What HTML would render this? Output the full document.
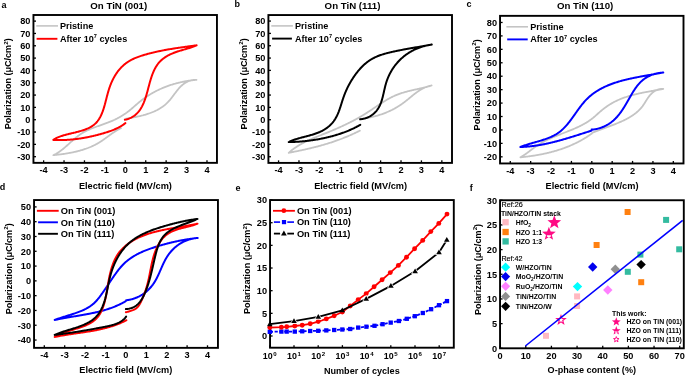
<!DOCTYPE html>
<html><head><meta charset="utf-8"><style>html,body{margin:0;padding:0;background:#fff;width:685px;height:376px;overflow:hidden;position:relative}</style></head>
<body>
<svg xmlns="http://www.w3.org/2000/svg" width="685" height="376" viewBox="0 0 685 376" style="position:absolute;left:0;top:0;will-change:transform;font-family:'Liberation Sans', sans-serif">
<rect width="685" height="376" fill="#fff"/>
<text x="1.6" y="7.9" font-size="9" font-weight="bold" text-anchor="start" fill="#000" >a</text>
<text x="234.6" y="6.9" font-size="9" font-weight="bold" text-anchor="start" fill="#000" >b</text>
<text x="466.6" y="7" font-size="9" font-weight="bold" text-anchor="start" fill="#000" >c</text>
<text x="-0.3" y="190.1" font-size="9" font-weight="bold" text-anchor="start" fill="#000" >d</text>
<text x="235.5" y="190.5" font-size="9" font-weight="bold" text-anchor="start" fill="#000" >e</text>
<text x="469.8" y="191" font-size="9" font-weight="bold" text-anchor="start" fill="#000" >f</text>
<rect x="33.45" y="15" width="183.5" height="147.85" fill="none" stroke="#000" stroke-width="1.9"/>
<line x1="43.62" y1="162.85" x2="43.62" y2="160.3" stroke="#000" stroke-width="1.3"/>
<text x="43.62" y="173.15" font-size="9.2" font-weight="bold" text-anchor="middle" fill="#000" >-4</text>
<line x1="64.04" y1="162.85" x2="64.04" y2="160.3" stroke="#000" stroke-width="1.3"/>
<text x="64.04" y="173.15" font-size="9.2" font-weight="bold" text-anchor="middle" fill="#000" >-3</text>
<line x1="84.46" y1="162.85" x2="84.46" y2="160.3" stroke="#000" stroke-width="1.3"/>
<text x="84.46" y="173.15" font-size="9.2" font-weight="bold" text-anchor="middle" fill="#000" >-2</text>
<line x1="104.88" y1="162.85" x2="104.88" y2="160.3" stroke="#000" stroke-width="1.3"/>
<text x="104.88" y="173.15" font-size="9.2" font-weight="bold" text-anchor="middle" fill="#000" >-1</text>
<line x1="125.3" y1="162.85" x2="125.3" y2="160.3" stroke="#000" stroke-width="1.3"/>
<text x="125.3" y="173.15" font-size="9.2" font-weight="bold" text-anchor="middle" fill="#000" >0</text>
<line x1="145.72" y1="162.85" x2="145.72" y2="160.3" stroke="#000" stroke-width="1.3"/>
<text x="145.72" y="173.15" font-size="9.2" font-weight="bold" text-anchor="middle" fill="#000" >1</text>
<line x1="166.14" y1="162.85" x2="166.14" y2="160.3" stroke="#000" stroke-width="1.3"/>
<text x="166.14" y="173.15" font-size="9.2" font-weight="bold" text-anchor="middle" fill="#000" >2</text>
<line x1="186.56" y1="162.85" x2="186.56" y2="160.3" stroke="#000" stroke-width="1.3"/>
<text x="186.56" y="173.15" font-size="9.2" font-weight="bold" text-anchor="middle" fill="#000" >3</text>
<line x1="206.98" y1="162.85" x2="206.98" y2="160.3" stroke="#000" stroke-width="1.3"/>
<text x="206.98" y="173.15" font-size="9.2" font-weight="bold" text-anchor="middle" fill="#000" >4</text>
<line x1="33.45" y1="21.12" x2="36" y2="21.12" stroke="#000" stroke-width="1.3"/>
<text x="30.45" y="24.37" font-size="9.2" font-weight="bold" text-anchor="end" fill="#000" >80</text>
<line x1="33.45" y1="33.45" x2="36" y2="33.45" stroke="#000" stroke-width="1.3"/>
<text x="30.45" y="36.7" font-size="9.2" font-weight="bold" text-anchor="end" fill="#000" >70</text>
<line x1="33.45" y1="45.77" x2="36" y2="45.77" stroke="#000" stroke-width="1.3"/>
<text x="30.45" y="49.02" font-size="9.2" font-weight="bold" text-anchor="end" fill="#000" >60</text>
<line x1="33.45" y1="58.09" x2="36" y2="58.09" stroke="#000" stroke-width="1.3"/>
<text x="30.45" y="61.34" font-size="9.2" font-weight="bold" text-anchor="end" fill="#000" >50</text>
<line x1="33.45" y1="70.42" x2="36" y2="70.42" stroke="#000" stroke-width="1.3"/>
<text x="30.45" y="73.67" font-size="9.2" font-weight="bold" text-anchor="end" fill="#000" >40</text>
<line x1="33.45" y1="82.75" x2="36" y2="82.75" stroke="#000" stroke-width="1.3"/>
<text x="30.45" y="86" font-size="9.2" font-weight="bold" text-anchor="end" fill="#000" >30</text>
<line x1="33.45" y1="95.07" x2="36" y2="95.07" stroke="#000" stroke-width="1.3"/>
<text x="30.45" y="98.32" font-size="9.2" font-weight="bold" text-anchor="end" fill="#000" >20</text>
<line x1="33.45" y1="107.39" x2="36" y2="107.39" stroke="#000" stroke-width="1.3"/>
<text x="30.45" y="110.64" font-size="9.2" font-weight="bold" text-anchor="end" fill="#000" >10</text>
<line x1="33.45" y1="119.72" x2="36" y2="119.72" stroke="#000" stroke-width="1.3"/>
<text x="30.45" y="122.97" font-size="9.2" font-weight="bold" text-anchor="end" fill="#000" >0</text>
<line x1="33.45" y1="132.04" x2="36" y2="132.04" stroke="#000" stroke-width="1.3"/>
<text x="30.45" y="135.29" font-size="9.2" font-weight="bold" text-anchor="end" fill="#000" >-10</text>
<line x1="33.45" y1="144.37" x2="36" y2="144.37" stroke="#000" stroke-width="1.3"/>
<text x="30.45" y="147.62" font-size="9.2" font-weight="bold" text-anchor="end" fill="#000" >-20</text>
<line x1="33.45" y1="156.69" x2="36" y2="156.69" stroke="#000" stroke-width="1.3"/>
<text x="30.45" y="159.94" font-size="9.2" font-weight="bold" text-anchor="end" fill="#000" >-30</text>
<text x="118.7" y="8.7" font-size="9.7" font-weight="bold" text-anchor="middle" fill="#000" >On TiN (001)</text>
<text x="125.4" y="188.5" font-size="9.2" font-weight="bold" text-anchor="middle" fill="#000" >Electric field (MV/cm)</text>
<text transform="translate(11.2,129.3) rotate(-90)" font-size="9.05" font-weight="bold" fill="#000">Polarization (&#956;C/cm<tspan font-size="6.24" dx="0.2" dy="-3.5">2</tspan><tspan dy="3.5">)</tspan></text>
<line x1="36.3" y1="25.9" x2="58" y2="25.9" stroke="#c4c4c4" stroke-width="1.6"/>
<line x1="36.6" y1="38.8" x2="57.4" y2="38.8" stroke="#ff0000" stroke-width="1.9"/>
<text x="59.9" y="29" font-size="9.1" font-weight="bold" text-anchor="start" fill="#000" >Pristine</text>
<text x="59.9" y="41.7" font-size="9.1" font-weight="bold" text-anchor="start" fill="#000" >After 10<tspan font-size="5.6" dy="-3.4">7</tspan><tspan dy="3.4"> cycles</tspan></text>
<path d="M125.3,118.8 L126,118.69 L126.7,118.57 L127.41,118.46 L128.11,118.34 L128.82,118.22 L129.52,118.1 L130.23,117.98 L130.93,117.86 L131.64,117.73 L132.35,117.6 L133.05,117.47 L133.76,117.34 L134.47,117.21 L135.17,117.07 L135.88,116.93 L136.58,116.78 L137.29,116.64 L137.99,116.49 L138.69,116.33 L139.39,116.18 L140.09,116.01 L140.79,115.85 L141.49,115.68 L142.18,115.5 L142.87,115.33 L143.56,115.14 L144.25,114.95 L144.94,114.76 L145.62,114.56 L146.3,114.36 L146.98,114.15 L147.65,113.93 L148.32,113.71 L148.99,113.49 L149.66,113.26 L150.32,113.02 L150.97,112.77 L151.63,112.52 L152.28,112.26 L152.93,112 L153.57,111.73 L154.2,111.45 L154.84,111.16 L155.47,110.87 L156.09,110.56 L156.71,110.26 L157.32,109.94 L157.93,109.61 L158.54,109.28 L159.14,108.94 L159.73,108.59 L160.32,108.23 L160.9,107.86 L161.47,107.48 L162.04,107.1 L162.6,106.7 L163.16,106.3 L163.71,105.88 L164.25,105.46 L164.79,105.02 L165.32,104.58 L165.84,104.12 L166.36,103.66 L166.87,103.18 L167.37,102.7 L167.86,102.2 L168.35,101.69 L168.82,101.17 L169.29,100.64 L169.76,100.11 L170.22,99.56 L170.67,99.01 L171.12,98.45 L171.56,97.88 L172,97.31 L172.44,96.73 L172.88,96.16 L173.31,95.58 L173.75,94.99 L174.18,94.41 L174.61,93.83 L175.05,93.25 L175.48,92.67 L175.92,92.09 L176.36,91.52 L176.8,90.95 L177.25,90.39 L177.7,89.84 L178.15,89.29 L178.61,88.75 L179.08,88.21 L179.56,87.69 L180.04,87.18 L180.53,86.68 L181.02,86.19 L181.53,85.71 L182.05,85.25 L182.57,84.8 L183.11,84.37 L183.65,83.95 L184.21,83.55 L184.78,83.17 L185.36,82.8 L185.95,82.45 L186.55,82.12 L187.17,81.81 L187.8,81.52 L188.44,81.25 L189.1,81 L189.77,80.77 L190.46,80.56 L191.16,80.38 L191.87,80.22 L192.6,80.09 L193.35,79.98 L194.11,79.89 L194.89,79.84 L195.69,79.8 L196.5,79.8 L196.5,79.8 L195.78,79.87 L195.07,79.94 L194.36,80.01 L193.64,80.09 L192.93,80.17 L192.22,80.26 L191.51,80.35 L190.8,80.44 L190.09,80.54 L189.39,80.64 L188.68,80.75 L187.98,80.86 L187.27,80.97 L186.57,81.09 L185.87,81.21 L185.17,81.34 L184.47,81.47 L183.78,81.61 L183.08,81.75 L182.39,81.89 L181.69,82.04 L181,82.19 L180.31,82.35 L179.62,82.51 L178.93,82.67 L178.25,82.84 L177.56,83.01 L176.88,83.19 L176.2,83.37 L175.52,83.56 L174.84,83.75 L174.16,83.94 L173.49,84.14 L172.81,84.34 L172.14,84.55 L171.47,84.76 L170.8,84.98 L170.14,85.2 L169.47,85.42 L168.81,85.65 L168.15,85.88 L167.49,86.12 L166.83,86.36 L166.18,86.6 L165.52,86.85 L164.87,87.11 L164.22,87.37 L163.58,87.63 L162.93,87.9 L162.29,88.17 L161.65,88.45 L161.01,88.73 L160.37,89.01 L159.74,89.3 L159.11,89.59 L158.48,89.89 L157.85,90.2 L157.22,90.5 L156.6,90.81 L155.98,91.13 L155.36,91.45 L154.74,91.78 L154.13,92.11 L153.52,92.44 L152.91,92.78 L152.3,93.12 L151.7,93.47 L151.1,93.82 L150.5,94.18 L149.9,94.54 L149.31,94.9 L148.72,95.27 L148.13,95.65 L147.55,96.03 L146.96,96.41 L146.38,96.8 L145.81,97.19 L145.23,97.59 L144.66,97.99 L144.09,98.4 L143.53,98.81 L142.96,99.22 L142.4,99.64 L141.85,100.07 L141.29,100.5 L140.74,100.93 L140.19,101.37 L139.65,101.81 L139.1,102.26 L138.56,102.71 L138.03,103.17 L137.49,103.62 L136.96,104.08 L136.42,104.55 L135.89,105.01 L135.36,105.47 L134.83,105.93 L134.3,106.4 L133.76,106.86 L133.23,107.32 L132.7,107.78 L132.16,108.24 L131.63,108.7 L131.09,109.15 L130.55,109.6 L130.01,110.05 L129.47,110.49 L128.92,110.93 L128.37,111.36 L127.81,111.79 L127.26,112.21 L126.7,112.63 L126.13,113.03 L125.56,113.44 L124.99,113.83 L124.41,114.22 L123.83,114.61 L123.25,114.99 L122.66,115.36 L122.07,115.73 L121.47,116.09 L120.88,116.44 L120.27,116.79 L119.67,117.14 L119.06,117.47 L118.45,117.81 L117.84,118.14 L117.22,118.46 L116.6,118.78 L115.97,119.09 L115.35,119.39 L114.72,119.7 L114.08,119.99 L113.45,120.28 L112.81,120.57 L112.17,120.85 L111.52,121.13 L110.87,121.4 L110.22,121.67 L109.57,121.93 L108.92,122.19 L108.26,122.44 L107.6,122.7 L106.94,122.94 L106.28,123.19 L105.62,123.43 L104.95,123.67 L104.29,123.91 L103.62,124.15 L102.95,124.39 L102.29,124.62 L101.62,124.86 L100.95,125.09 L100.28,125.33 L99.61,125.56 L98.95,125.8 L98.28,126.04 L97.61,126.27 L96.95,126.51 L96.28,126.75 L95.62,126.99 L94.96,127.24 L94.3,127.49 L93.64,127.74 L92.99,127.99 L92.33,128.25 L91.68,128.51 L91.03,128.77 L90.38,129.04 L89.74,129.32 L89.1,129.6 L88.46,129.88 L87.83,130.17 L87.2,130.46 L86.57,130.77 L85.95,131.08 L85.33,131.39 L84.71,131.71 L84.1,132.04 L83.49,132.38 L82.89,132.73 L82.3,133.08 L81.7,133.44 L81.12,133.81 L80.54,134.19 L79.96,134.58 L79.39,134.98 L78.83,135.39 L78.27,135.8 L77.71,136.22 L77.16,136.65 L76.61,137.09 L76.06,137.53 L75.52,137.97 L74.98,138.42 L74.45,138.88 L73.91,139.34 L73.38,139.81 L72.85,140.27 L72.32,140.74 L71.8,141.22 L71.27,141.69 L70.74,142.17 L70.22,142.65 L69.69,143.12 L69.17,143.6 L68.64,144.08 L68.12,144.56 L67.59,145.03 L67.06,145.51 L66.53,145.98 L66,146.45 L65.47,146.91 L64.93,147.38 L64.39,147.84 L63.85,148.29 L63.31,148.74 L62.76,149.18 L62.21,149.62 L61.65,150.05 L61.09,150.48 L60.53,150.9 L59.96,151.31 L59.39,151.71 L58.81,152.11 L58.22,152.49 L57.63,152.87 L57.03,153.23 L56.43,153.59 L55.82,153.94 L55.2,154.27 L54.57,154.59 L53.94,154.9 L53.3,155.2 L53.3,155.2 L54.01,155.12 L54.73,155.05 L55.44,154.97 L56.15,154.89 L56.87,154.81 L57.58,154.73 L58.29,154.64 L59,154.56 L59.71,154.47 L60.42,154.38 L61.13,154.28 L61.84,154.19 L62.55,154.09 L63.26,153.99 L63.96,153.89 L64.67,153.78 L65.38,153.67 L66.08,153.56 L66.78,153.45 L67.48,153.33 L68.19,153.21 L68.89,153.09 L69.59,152.96 L70.28,152.83 L70.98,152.7 L71.68,152.56 L72.37,152.42 L73.06,152.28 L73.75,152.13 L74.44,151.98 L75.13,151.82 L75.82,151.66 L76.5,151.5 L77.19,151.33 L77.87,151.16 L78.55,150.98 L79.23,150.8 L79.9,150.62 L80.58,150.43 L81.25,150.23 L81.92,150.03 L82.59,149.83 L83.26,149.62 L83.92,149.41 L84.58,149.19 L85.24,148.96 L85.9,148.74 L86.56,148.5 L87.21,148.26 L87.86,148.02 L88.51,147.76 L89.15,147.51 L89.8,147.24 L90.44,146.98 L91.08,146.7 L91.71,146.42 L92.35,146.14 L92.98,145.84 L93.6,145.55 L94.23,145.24 L94.85,144.93 L95.47,144.61 L96.09,144.29 L96.7,143.96 L97.31,143.62 L97.91,143.27 L98.52,142.92 L99.12,142.56 L99.72,142.2 L100.31,141.83 L100.9,141.45 L101.49,141.06 L102.07,140.67 L102.66,140.27 L103.24,139.87 L103.81,139.46 L104.39,139.05 L104.97,138.63 L105.54,138.22 L106.11,137.8 L106.69,137.38 L107.26,136.95 L107.83,136.53 L108.41,136.11 L108.98,135.69 L109.55,135.27 L110.13,134.85 L110.71,134.43 L111.28,134.02 L111.87,133.6 L112.45,133.2 L113.03,132.79 L113.62,132.4 L114.21,132 L114.81,131.62 L115.41,131.24 L116.01,130.86 L116.62,130.5 L117.23,130.14 L117.84,129.79 L118.46,129.45 L119.09,129.12 L119.72,128.8 L120.36,128.5 L121,128.2" fill="none" stroke="#c4c4c4" stroke-width="1.8" stroke-linejoin="round" stroke-linecap="round"/>
<path d="M124.8,119.8 L125.59,119.62 L126.37,119.42 L127.12,119.2 L127.86,118.97 L128.57,118.72 L129.27,118.45 L129.95,118.17 L130.61,117.87 L131.25,117.55 L131.87,117.22 L132.48,116.87 L133.07,116.51 L133.65,116.14 L134.21,115.75 L134.75,115.34 L135.28,114.92 L135.79,114.49 L136.29,114.05 L136.77,113.59 L137.24,113.12 L137.69,112.64 L138.14,112.14 L138.57,111.64 L138.98,111.12 L139.39,110.59 L139.78,110.05 L140.16,109.51 L140.53,108.95 L140.89,108.38 L141.23,107.8 L141.57,107.21 L141.9,106.62 L142.22,106.01 L142.53,105.4 L142.83,104.78 L143.12,104.15 L143.4,103.52 L143.68,102.87 L143.94,102.22 L144.2,101.57 L144.46,100.91 L144.71,100.24 L144.95,99.57 L145.18,98.89 L145.41,98.2 L145.64,97.52 L145.86,96.83 L146.07,96.13 L146.28,95.43 L146.49,94.73 L146.7,94.02 L146.9,93.31 L147.1,92.6 L147.29,91.89 L147.49,91.17 L147.68,90.46 L147.87,89.74 L148.06,89.02 L148.25,88.3 L148.44,87.58 L148.63,86.86 L148.82,86.14 L149.01,85.42 L149.2,84.71 L149.4,83.99 L149.59,83.27 L149.79,82.56 L149.99,81.85 L150.19,81.14 L150.4,80.44 L150.6,79.73 L150.82,79.03 L151.03,78.34 L151.26,77.65 L151.48,76.96 L151.71,76.28 L151.95,75.6 L152.19,74.92 L152.44,74.26 L152.7,73.59 L152.96,72.94 L153.23,72.29 L153.5,71.64 L153.79,71.01 L154.08,70.38 L154.38,69.75 L154.69,69.14 L155,68.53 L155.33,67.93 L155.66,67.34 L156.01,66.76 L156.36,66.18 L156.73,65.62 L157.1,65.06 L157.49,64.51 L157.89,63.98 L158.3,63.45 L158.72,62.93 L159.15,62.43 L159.59,61.93 L160.05,61.45 L160.52,60.97 L161,60.51 L161.49,60.06 L162,59.62 L162.51,59.18 L163.04,58.76 L163.58,58.35 L164.12,57.95 L164.68,57.56 L165.25,57.18 L165.83,56.8 L166.41,56.44 L167.01,56.09 L167.61,55.74 L168.22,55.41 L168.85,55.08 L169.47,54.76 L170.11,54.45 L170.76,54.15 L171.41,53.86 L172.06,53.58 L172.73,53.3 L173.4,53.03 L174.08,52.77 L174.76,52.51 L175.44,52.26 L176.13,52.02 L176.83,51.78 L177.53,51.55 L178.23,51.32 L178.93,51.1 L179.63,50.88 L180.34,50.66 L181.05,50.44 L181.76,50.23 L182.46,50.02 L183.17,49.81 L183.88,49.61 L184.59,49.4 L185.29,49.2 L185.99,48.99 L186.69,48.79 L187.39,48.58 L188.09,48.37 L188.78,48.17 L189.46,47.96 L190.14,47.74 L190.82,47.53 L191.49,47.31 L192.15,47.09 L192.81,46.86 L193.46,46.63 L194.11,46.4 L194.74,46.16 L195.37,45.91 L195.99,45.66 L196.6,45.4 L196.6,45.3 L195.9,45.4 L195.19,45.49 L194.49,45.59 L193.79,45.68 L193.09,45.78 L192.39,45.88 L191.69,45.97 L190.99,46.07 L190.29,46.16 L189.59,46.26 L188.89,46.35 L188.19,46.45 L187.5,46.54 L186.8,46.64 L186.1,46.73 L185.41,46.83 L184.71,46.93 L184.02,47.02 L183.32,47.12 L182.63,47.22 L181.94,47.32 L181.24,47.42 L180.55,47.52 L179.86,47.62 L179.16,47.72 L178.47,47.82 L177.78,47.92 L177.09,48.03 L176.4,48.13 L175.71,48.24 L175.02,48.34 L174.33,48.45 L173.63,48.56 L172.94,48.67 L172.25,48.78 L171.56,48.9 L170.87,49.01 L170.18,49.13 L169.49,49.24 L168.8,49.36 L168.11,49.48 L167.42,49.6 L166.73,49.72 L166.04,49.85 L165.35,49.98 L164.66,50.1 L163.97,50.23 L163.28,50.37 L162.59,50.5 L161.9,50.64 L161.21,50.77 L160.52,50.91 L159.83,51.06 L159.14,51.2 L158.45,51.35 L157.76,51.49 L157.07,51.64 L156.37,51.8 L155.68,51.95 L154.99,52.11 L154.3,52.27 L153.6,52.44 L152.91,52.6 L152.21,52.77 L151.52,52.94 L150.83,53.11 L150.13,53.29 L149.43,53.47 L148.74,53.65 L148.04,53.84 L147.35,54.03 L146.65,54.22 L145.95,54.41 L145.25,54.61 L144.55,54.81 L143.86,55.02 L143.16,55.23 L142.47,55.44 L141.77,55.66 L141.08,55.88 L140.39,56.11 L139.71,56.34 L139.02,56.58 L138.34,56.83 L137.67,57.08 L137,57.33 L136.33,57.6 L135.66,57.87 L135,58.15 L134.35,58.43 L133.7,58.72 L133.06,59.02 L132.42,59.33 L131.79,59.64 L131.17,59.97 L130.56,60.3 L129.95,60.64 L129.35,60.99 L128.75,61.35 L128.17,61.72 L127.6,62.09 L127.03,62.48 L126.47,62.88 L125.92,63.29 L125.38,63.7 L124.85,64.12 L124.32,64.56 L123.8,65 L123.3,65.45 L122.79,65.91 L122.3,66.37 L121.82,66.85 L121.34,67.33 L120.87,67.82 L120.41,68.32 L119.96,68.82 L119.51,69.34 L119.07,69.86 L118.64,70.39 L118.22,70.92 L117.81,71.47 L117.4,72.01 L117,72.57 L116.61,73.13 L116.22,73.7 L115.84,74.28 L115.47,74.86 L115.11,75.45 L114.75,76.05 L114.4,76.65 L114.06,77.25 L113.72,77.87 L113.39,78.49 L113.07,79.11 L112.76,79.74 L112.45,80.37 L112.15,81.01 L111.85,81.66 L111.56,82.31 L111.28,82.96 L111.01,83.62 L110.74,84.28 L110.48,84.95 L110.22,85.62 L109.97,86.3 L109.73,86.98 L109.49,87.66 L109.26,88.35 L109.03,89.04 L108.81,89.74 L108.6,90.44 L108.39,91.14 L108.18,91.84 L107.98,92.55 L107.78,93.25 L107.59,93.96 L107.4,94.67 L107.21,95.38 L107.02,96.09 L106.84,96.81 L106.65,97.52 L106.47,98.23 L106.29,98.94 L106.11,99.65 L105.93,100.36 L105.74,101.07 L105.56,101.78 L105.38,102.48 L105.19,103.18 L105,103.88 L104.82,104.58 L104.62,105.28 L104.43,105.97 L104.23,106.65 L104.02,107.34 L103.82,108.01 L103.61,108.69 L103.39,109.36 L103.17,110.02 L102.94,110.68 L102.71,111.33 L102.47,111.98 L102.22,112.62 L101.96,113.25 L101.7,113.88 L101.43,114.5 L101.15,115.11 L100.87,115.71 L100.57,116.31 L100.27,116.9 L99.95,117.48 L99.63,118.04 L99.29,118.61 L98.94,119.16 L98.58,119.7 L98.21,120.23 L97.83,120.75 L97.44,121.26 L97.03,121.76 L96.61,122.24 L96.17,122.72 L95.72,123.18 L95.26,123.63 L94.78,124.07 L94.29,124.5 L93.78,124.91 L93.26,125.31 L92.72,125.7 L92.17,126.07 L91.6,126.44 L91.02,126.79 L90.43,127.13 L89.82,127.45 L89.2,127.77 L88.57,128.08 L87.94,128.38 L87.29,128.66 L86.63,128.94 L85.96,129.21 L85.28,129.47 L84.6,129.73 L83.91,129.97 L83.21,130.21 L82.51,130.44 L81.8,130.66 L81.09,130.88 L80.37,131.09 L79.65,131.3 L78.92,131.5 L78.19,131.7 L77.46,131.89 L76.73,132.08 L76,132.26 L75.26,132.45 L74.53,132.62 L73.8,132.8 L73.06,132.98 L72.33,133.15 L71.6,133.32 L70.87,133.49 L70.15,133.67 L69.42,133.84 L68.7,134.02 L67.98,134.19 L67.27,134.37 L66.56,134.55 L65.85,134.74 L65.15,134.93 L64.46,135.12 L63.77,135.32 L63.08,135.52 L62.41,135.73 L61.74,135.95 L61.07,136.17 L60.42,136.4 L59.77,136.64 L59.13,136.88 L58.5,137.14 L57.88,137.4 L57.27,137.67 L56.67,137.96 L56.08,138.25 L55.5,138.56 L54.93,138.87 L54.38,139.2 L53.83,139.54 L53.3,139.9 L53.3,139.9 L53.99,139.94 L54.68,139.97 L55.37,140 L56.07,140.02 L56.76,140.04 L57.45,140.06 L58.15,140.07 L58.84,140.08 L59.54,140.08 L60.24,140.08 L60.94,140.07 L61.63,140.06 L62.33,140.05 L63.03,140.03 L63.73,140.01 L64.43,139.99 L65.13,139.96 L65.84,139.93 L66.54,139.89 L67.24,139.85 L67.94,139.81 L68.65,139.76 L69.35,139.71 L70.05,139.66 L70.76,139.6 L71.46,139.54 L72.17,139.47 L72.87,139.4 L73.57,139.33 L74.28,139.25 L74.98,139.18 L75.69,139.09 L76.39,139.01 L77.1,138.92 L77.8,138.82 L78.51,138.73 L79.21,138.63 L79.91,138.52 L80.62,138.42 L81.32,138.31 L82.03,138.19 L82.73,138.08 L83.43,137.96 L84.13,137.84 L84.84,137.71 L85.54,137.58 L86.24,137.45 L86.94,137.32 L87.64,137.18 L88.34,137.04 L89.04,136.89 L89.74,136.75 L90.44,136.6 L91.14,136.45 L91.83,136.29 L92.53,136.13 L93.23,135.97 L93.92,135.81 L94.62,135.64 L95.31,135.47 L96,135.3 L96.69,135.13 L97.38,134.95 L98.07,134.77 L98.76,134.59 L99.45,134.4 L100.14,134.21 L100.82,134.02 L101.51,133.83 L102.19,133.64 L102.88,133.44 L103.56,133.24 L104.24,133.04 L104.92,132.83 L105.59,132.63 L106.27,132.41 L106.94,132.2 L107.62,131.98 L108.29,131.76 L108.95,131.54 L109.62,131.31 L110.28,131.07 L110.94,130.83 L111.59,130.59 L112.25,130.34 L112.89,130.09 L113.54,129.83 L114.18,129.56 L114.82,129.29 L115.45,129.01 L116.08,128.73 L116.7,128.44 L117.32,128.14 L117.94,127.83 L118.55,127.52 L119.15,127.2 L119.75,126.87 L120.34,126.53 L120.93,126.19 L121.51,125.84 L122.09,125.47 L122.66,125.1 L123.22,124.72 L123.78,124.33 L124.33,123.93 L124.87,123.52 L125.4,123.1" fill="none" stroke="#ff0000" stroke-width="2.0" stroke-linejoin="round" stroke-linecap="round"/>
<rect x="268.4" y="15.05" width="183.6" height="147.85" fill="none" stroke="#000" stroke-width="1.9"/>
<line x1="278.56" y1="162.9" x2="278.56" y2="160.35" stroke="#000" stroke-width="1.3"/>
<text x="278.56" y="173.2" font-size="9.2" font-weight="bold" text-anchor="middle" fill="#000" >-4</text>
<line x1="298.97" y1="162.9" x2="298.97" y2="160.35" stroke="#000" stroke-width="1.3"/>
<text x="298.97" y="173.2" font-size="9.2" font-weight="bold" text-anchor="middle" fill="#000" >-3</text>
<line x1="319.38" y1="162.9" x2="319.38" y2="160.35" stroke="#000" stroke-width="1.3"/>
<text x="319.38" y="173.2" font-size="9.2" font-weight="bold" text-anchor="middle" fill="#000" >-2</text>
<line x1="339.79" y1="162.9" x2="339.79" y2="160.35" stroke="#000" stroke-width="1.3"/>
<text x="339.79" y="173.2" font-size="9.2" font-weight="bold" text-anchor="middle" fill="#000" >-1</text>
<line x1="360.2" y1="162.9" x2="360.2" y2="160.35" stroke="#000" stroke-width="1.3"/>
<text x="360.2" y="173.2" font-size="9.2" font-weight="bold" text-anchor="middle" fill="#000" >0</text>
<line x1="380.61" y1="162.9" x2="380.61" y2="160.35" stroke="#000" stroke-width="1.3"/>
<text x="380.61" y="173.2" font-size="9.2" font-weight="bold" text-anchor="middle" fill="#000" >1</text>
<line x1="401.02" y1="162.9" x2="401.02" y2="160.35" stroke="#000" stroke-width="1.3"/>
<text x="401.02" y="173.2" font-size="9.2" font-weight="bold" text-anchor="middle" fill="#000" >2</text>
<line x1="421.43" y1="162.9" x2="421.43" y2="160.35" stroke="#000" stroke-width="1.3"/>
<text x="421.43" y="173.2" font-size="9.2" font-weight="bold" text-anchor="middle" fill="#000" >3</text>
<line x1="441.84" y1="162.9" x2="441.84" y2="160.35" stroke="#000" stroke-width="1.3"/>
<text x="441.84" y="173.2" font-size="9.2" font-weight="bold" text-anchor="middle" fill="#000" >4</text>
<line x1="268.4" y1="21.06" x2="270.95" y2="21.06" stroke="#000" stroke-width="1.3"/>
<text x="265.4" y="24.31" font-size="9.2" font-weight="bold" text-anchor="end" fill="#000" >80</text>
<line x1="268.4" y1="33.4" x2="270.95" y2="33.4" stroke="#000" stroke-width="1.3"/>
<text x="265.4" y="36.65" font-size="9.2" font-weight="bold" text-anchor="end" fill="#000" >70</text>
<line x1="268.4" y1="45.73" x2="270.95" y2="45.73" stroke="#000" stroke-width="1.3"/>
<text x="265.4" y="48.98" font-size="9.2" font-weight="bold" text-anchor="end" fill="#000" >60</text>
<line x1="268.4" y1="58.06" x2="270.95" y2="58.06" stroke="#000" stroke-width="1.3"/>
<text x="265.4" y="61.31" font-size="9.2" font-weight="bold" text-anchor="end" fill="#000" >50</text>
<line x1="268.4" y1="70.39" x2="270.95" y2="70.39" stroke="#000" stroke-width="1.3"/>
<text x="265.4" y="73.64" font-size="9.2" font-weight="bold" text-anchor="end" fill="#000" >40</text>
<line x1="268.4" y1="82.72" x2="270.95" y2="82.72" stroke="#000" stroke-width="1.3"/>
<text x="265.4" y="85.97" font-size="9.2" font-weight="bold" text-anchor="end" fill="#000" >30</text>
<line x1="268.4" y1="95.06" x2="270.95" y2="95.06" stroke="#000" stroke-width="1.3"/>
<text x="265.4" y="98.31" font-size="9.2" font-weight="bold" text-anchor="end" fill="#000" >20</text>
<line x1="268.4" y1="107.39" x2="270.95" y2="107.39" stroke="#000" stroke-width="1.3"/>
<text x="265.4" y="110.64" font-size="9.2" font-weight="bold" text-anchor="end" fill="#000" >10</text>
<line x1="268.4" y1="119.72" x2="270.95" y2="119.72" stroke="#000" stroke-width="1.3"/>
<text x="265.4" y="122.97" font-size="9.2" font-weight="bold" text-anchor="end" fill="#000" >0</text>
<line x1="268.4" y1="132.05" x2="270.95" y2="132.05" stroke="#000" stroke-width="1.3"/>
<text x="265.4" y="135.3" font-size="9.2" font-weight="bold" text-anchor="end" fill="#000" >-10</text>
<line x1="268.4" y1="144.38" x2="270.95" y2="144.38" stroke="#000" stroke-width="1.3"/>
<text x="265.4" y="147.63" font-size="9.2" font-weight="bold" text-anchor="end" fill="#000" >-20</text>
<line x1="268.4" y1="156.72" x2="270.95" y2="156.72" stroke="#000" stroke-width="1.3"/>
<text x="265.4" y="159.97" font-size="9.2" font-weight="bold" text-anchor="end" fill="#000" >-30</text>
<text x="352.5" y="8.7" font-size="9.7" font-weight="bold" text-anchor="middle" fill="#000" >On TiN (111)</text>
<text x="360.6" y="188.7" font-size="9.2" font-weight="bold" text-anchor="middle" fill="#000" >Electric field (MV/cm)</text>
<text transform="translate(246.6,129.4) rotate(-90)" font-size="9.05" font-weight="bold" fill="#000">Polarization (&#956;C/cm<tspan font-size="6.24" dx="0.2" dy="-3.5">2</tspan><tspan dy="3.5">)</tspan></text>
<line x1="271.3" y1="25.9" x2="292.9" y2="25.9" stroke="#c4c4c4" stroke-width="1.6"/>
<line x1="272.1" y1="38.6" x2="291.9" y2="38.6" stroke="#000000" stroke-width="1.9"/>
<text x="295" y="28.95" font-size="9.1" font-weight="bold" text-anchor="start" fill="#000" >Pristine</text>
<text x="295" y="41.65" font-size="9.1" font-weight="bold" text-anchor="start" fill="#000" >After 10<tspan font-size="5.6" dy="-3.4">7</tspan><tspan dy="3.4"> cycles</tspan></text>
<path d="M360,119 L360.72,118.92 L361.43,118.83 L362.15,118.74 L362.86,118.65 L363.57,118.55 L364.28,118.45 L364.99,118.34 L365.7,118.23 L366.41,118.11 L367.11,117.99 L367.82,117.86 L368.52,117.73 L369.22,117.59 L369.92,117.45 L370.61,117.3 L371.31,117.15 L372,116.99 L372.69,116.83 L373.38,116.67 L374.07,116.5 L374.76,116.32 L375.44,116.14 L376.12,115.95 L376.81,115.76 L377.48,115.57 L378.16,115.36 L378.83,115.16 L379.51,114.95 L380.18,114.73 L380.84,114.51 L381.51,114.29 L382.17,114.05 L382.83,113.82 L383.49,113.58 L384.15,113.33 L384.8,113.08 L385.46,112.82 L386.11,112.56 L386.75,112.29 L387.4,112.02 L388.04,111.74 L388.68,111.46 L389.32,111.17 L389.95,110.88 L390.58,110.58 L391.21,110.27 L391.84,109.97 L392.46,109.65 L393.08,109.33 L393.7,109.01 L394.32,108.67 L394.93,108.34 L395.54,108 L396.14,107.65 L396.75,107.3 L397.35,106.94 L397.95,106.58 L398.54,106.21 L399.13,105.83 L399.72,105.45 L400.31,105.07 L400.89,104.68 L401.47,104.28 L402.04,103.88 L402.61,103.47 L403.18,103.06 L403.75,102.64 L404.31,102.22 L404.87,101.79 L405.43,101.36 L405.98,100.92 L406.53,100.48 L407.08,100.03 L407.63,99.59 L408.18,99.14 L408.72,98.69 L409.27,98.24 L409.82,97.79 L410.36,97.34 L410.9,96.88 L411.45,96.43 L412,95.99 L412.54,95.54 L413.09,95.1 L413.64,94.66 L414.19,94.22 L414.75,93.79 L415.31,93.36 L415.87,92.94 L416.43,92.52 L416.99,92.11 L417.56,91.7 L418.14,91.31 L418.71,90.92 L419.3,90.53 L419.88,90.16 L420.48,89.8 L421.07,89.44 L421.68,89.1 L422.29,88.76 L422.9,88.44 L423.52,88.13 L424.15,87.83 L424.79,87.55 L425.43,87.28 L426.08,87.02 L426.74,86.77 L427.41,86.54 L428.08,86.33 L428.77,86.13 L429.46,85.95 L430.16,85.78 L430.88,85.63 L431.6,85.5 L431.6,85.5 L430.94,85.71 L430.28,85.91 L429.61,86.1 L428.94,86.29 L428.27,86.48 L427.6,86.67 L426.92,86.85 L426.24,87.02 L425.56,87.2 L424.88,87.37 L424.19,87.54 L423.5,87.7 L422.82,87.86 L422.13,88.03 L421.43,88.19 L420.74,88.34 L420.05,88.5 L419.35,88.66 L418.66,88.81 L417.96,88.97 L417.26,89.12 L416.57,89.28 L415.87,89.43 L415.17,89.59 L414.47,89.74 L413.78,89.9 L413.08,90.06 L412.38,90.22 L411.69,90.38 L410.99,90.54 L410.3,90.71 L409.6,90.88 L408.91,91.05 L408.22,91.22 L407.53,91.4 L406.84,91.58 L406.15,91.76 L405.47,91.95 L404.78,92.14 L404.1,92.33 L403.42,92.53 L402.75,92.74 L402.07,92.95 L401.4,93.17 L400.73,93.39 L400.06,93.61 L399.4,93.85 L398.74,94.08 L398.08,94.33 L397.43,94.58 L396.78,94.84 L396.13,95.11 L395.49,95.38 L394.85,95.66 L394.21,95.95 L393.58,96.24 L392.95,96.54 L392.32,96.84 L391.7,97.16 L391.07,97.47 L390.46,97.79 L389.84,98.12 L389.23,98.45 L388.61,98.79 L388,99.13 L387.4,99.48 L386.79,99.83 L386.19,100.18 L385.59,100.54 L384.99,100.9 L384.39,101.26 L383.8,101.63 L383.2,102 L382.61,102.38 L382.02,102.75 L381.43,103.13 L380.84,103.51 L380.25,103.9 L379.66,104.28 L379.07,104.67 L378.49,105.06 L377.9,105.45 L377.32,105.84 L376.73,106.23 L376.15,106.63 L375.57,107.02 L374.98,107.42 L374.4,107.81 L373.81,108.2 L373.23,108.6 L372.65,108.99 L372.06,109.39 L371.48,109.78 L370.89,110.17 L370.31,110.56 L369.72,110.95 L369.13,111.34 L368.54,111.72 L367.95,112.11 L367.36,112.49 L366.77,112.87 L366.17,113.25 L365.58,113.62 L364.98,113.99 L364.38,114.36 L363.78,114.73 L363.18,115.1 L362.58,115.46 L361.98,115.82 L361.37,116.17 L360.77,116.53 L360.16,116.88 L359.55,117.23 L358.94,117.58 L358.33,117.93 L357.72,118.27 L357.1,118.61 L356.49,118.95 L355.87,119.29 L355.26,119.62 L354.64,119.95 L354.02,120.28 L353.4,120.61 L352.78,120.94 L352.15,121.26 L351.53,121.59 L350.91,121.91 L350.28,122.22 L349.65,122.54 L349.03,122.86 L348.4,123.17 L347.77,123.48 L347.14,123.79 L346.51,124.1 L345.87,124.4 L345.24,124.7 L344.61,125.01 L343.97,125.31 L343.33,125.61 L342.7,125.9 L342.06,126.2 L341.42,126.49 L340.78,126.78 L340.14,127.07 L339.5,127.36 L338.86,127.65 L338.22,127.94 L337.57,128.22 L336.93,128.51 L336.29,128.79 L335.64,129.07 L335,129.35 L334.35,129.63 L333.7,129.9 L333.06,130.18 L332.41,130.46 L331.76,130.73 L331.11,131 L330.46,131.27 L329.81,131.54 L329.16,131.81 L328.51,132.08 L327.86,132.34 L327.2,132.61 L326.55,132.88 L325.9,133.14 L325.24,133.4 L324.59,133.66 L323.94,133.93 L323.28,134.19 L322.63,134.45 L321.97,134.71 L321.32,134.97 L320.66,135.23 L320.01,135.49 L319.36,135.75 L318.7,136.01 L318.05,136.27 L317.4,136.54 L316.74,136.8 L316.09,137.06 L315.44,137.33 L314.79,137.6 L314.14,137.87 L313.5,138.14 L312.85,138.42 L312.2,138.69 L311.56,138.97 L310.91,139.25 L310.27,139.53 L309.63,139.82 L308.99,140.11 L308.35,140.4 L307.72,140.69 L307.08,140.99 L306.45,141.3 L305.82,141.6 L305.19,141.91 L304.56,142.23 L303.94,142.54 L303.32,142.87 L302.7,143.19 L302.08,143.52 L301.46,143.86 L300.85,144.2 L300.24,144.55 L299.63,144.9 L299.03,145.26 L298.43,145.62 L297.83,145.99 L297.23,146.36 L296.64,146.74 L296.05,147.13 L295.46,147.52 L294.88,147.92 L294.3,148.33 L293.72,148.74 L293.15,149.16 L292.58,149.59 L292.01,150.03 L291.45,150.47 L290.89,150.92 L290.34,151.38 L289.79,151.84 L289.24,152.32 L288.7,152.8 L288.7,152.8 L289.4,152.67 L290.1,152.54 L290.8,152.4 L291.5,152.27 L292.2,152.14 L292.9,152 L293.6,151.86 L294.3,151.73 L295,151.59 L295.7,151.45 L296.4,151.31 L297.1,151.17 L297.8,151.02 L298.5,150.88 L299.2,150.73 L299.89,150.59 L300.59,150.44 L301.29,150.29 L301.99,150.14 L302.69,149.99 L303.38,149.84 L304.08,149.69 L304.78,149.53 L305.47,149.38 L306.17,149.22 L306.86,149.06 L307.56,148.9 L308.25,148.74 L308.95,148.58 L309.64,148.41 L310.34,148.25 L311.03,148.08 L311.72,147.91 L312.41,147.74 L313.11,147.57 L313.8,147.4 L314.49,147.23 L315.18,147.05 L315.87,146.87 L316.56,146.69 L317.25,146.51 L317.94,146.33 L318.63,146.14 L319.31,145.96 L320,145.77 L320.69,145.58 L321.37,145.39 L322.06,145.2 L322.75,145 L323.43,144.81 L324.11,144.61 L324.8,144.41 L325.48,144.21 L326.16,144 L326.84,143.8 L327.52,143.59 L328.21,143.38 L328.88,143.17 L329.56,142.95 L330.24,142.74 L330.92,142.52 L331.6,142.3 L332.27,142.08 L332.95,141.85 L333.62,141.63 L334.3,141.4 L334.97,141.17 L335.64,140.93 L336.31,140.7 L336.99,140.46 L337.66,140.22 L338.32,139.98 L338.99,139.74 L339.66,139.49 L340.33,139.24 L340.99,138.99 L341.66,138.74 L342.32,138.48 L342.99,138.22 L343.65,137.96 L344.31,137.7 L344.97,137.44 L345.63,137.17 L346.29,136.9 L346.95,136.62 L347.61,136.35 L348.26,136.07 L348.92,135.79 L349.57,135.51 L350.23,135.22 L350.88,134.93 L351.53,134.64 L352.18,134.35 L352.83,134.05 L353.48,133.75 L354.12,133.45 L354.77,133.14 L355.41,132.83 L356.06,132.52 L356.7,132.21 L357.34,131.89 L357.98,131.57 L358.62,131.25 L359.26,130.93 L359.9,130.6" fill="none" stroke="#c4c4c4" stroke-width="1.8" stroke-linejoin="round" stroke-linecap="round"/>
<path d="M360.2,119.3 L360.98,119.21 L361.74,119.1 L362.49,118.97 L363.24,118.82 L363.96,118.65 L364.68,118.46 L365.39,118.25 L366.08,118.02 L366.76,117.77 L367.43,117.5 L368.08,117.22 L368.72,116.92 L369.35,116.6 L369.96,116.27 L370.57,115.92 L371.15,115.55 L371.73,115.16 L372.29,114.77 L372.83,114.35 L373.37,113.92 L373.88,113.48 L374.39,113.02 L374.88,112.55 L375.35,112.07 L375.81,111.57 L376.26,111.06 L376.69,110.54 L377.1,110.01 L377.5,109.46 L377.88,108.91 L378.25,108.34 L378.6,107.76 L378.94,107.17 L379.26,106.58 L379.57,105.97 L379.87,105.35 L380.15,104.73 L380.42,104.09 L380.68,103.45 L380.93,102.81 L381.16,102.15 L381.39,101.49 L381.61,100.82 L381.82,100.15 L382.02,99.47 L382.22,98.78 L382.41,98.1 L382.59,97.4 L382.77,96.71 L382.94,96 L383.11,95.3 L383.28,94.6 L383.45,93.89 L383.61,93.18 L383.77,92.46 L383.93,91.75 L384.09,91.04 L384.25,90.32 L384.41,89.61 L384.58,88.9 L384.74,88.19 L384.91,87.47 L385.09,86.76 L385.27,86.06 L385.45,85.35 L385.64,84.65 L385.83,83.95 L386.04,83.26 L386.25,82.57 L386.47,81.88 L386.69,81.2 L386.93,80.52 L387.17,79.85 L387.42,79.18 L387.68,78.51 L387.95,77.85 L388.22,77.2 L388.5,76.55 L388.79,75.9 L389.09,75.26 L389.39,74.63 L389.71,74 L390.03,73.37 L390.35,72.75 L390.69,72.14 L391.03,71.53 L391.38,70.92 L391.74,70.32 L392.1,69.73 L392.47,69.14 L392.85,68.56 L393.24,67.98 L393.63,67.41 L394.03,66.84 L394.44,66.28 L394.85,65.72 L395.27,65.17 L395.7,64.63 L396.13,64.09 L396.57,63.56 L397.02,63.04 L397.47,62.52 L397.93,62 L398.4,61.49 L398.87,60.99 L399.35,60.5 L399.83,60.01 L400.33,59.53 L400.82,59.05 L401.33,58.58 L401.84,58.12 L402.36,57.66 L402.88,57.21 L403.41,56.77 L403.94,56.33 L404.48,55.9 L405.03,55.48 L405.58,55.06 L406.14,54.65 L406.7,54.25 L407.27,53.85 L407.84,53.46 L408.42,53.08 L409.01,52.71 L409.6,52.34 L410.19,51.98 L410.8,51.63 L411.4,51.28 L412.01,50.94 L412.63,50.61 L413.25,50.29 L413.88,49.97 L414.51,49.67 L415.15,49.37 L415.79,49.07 L416.44,48.79 L417.09,48.51 L417.75,48.24 L418.41,47.98 L419.07,47.73 L419.75,47.49 L420.42,47.25 L421.1,47.02 L421.78,46.8 L422.47,46.59 L423.17,46.38 L423.86,46.19 L424.56,46 L425.27,45.82 L425.98,45.65 L426.69,45.49 L427.41,45.34 L428.13,45.19 L428.86,45.06 L429.59,44.93 L430.32,44.81 L431.06,44.7 L431.8,44.6 L431.8,44.6 L431.11,44.72 L430.42,44.85 L429.72,44.97 L429.03,45.09 L428.34,45.21 L427.65,45.33 L426.96,45.45 L426.27,45.57 L425.58,45.69 L424.88,45.81 L424.19,45.93 L423.5,46.05 L422.81,46.17 L422.12,46.29 L421.43,46.41 L420.73,46.52 L420.04,46.64 L419.35,46.76 L418.66,46.88 L417.97,47 L417.27,47.12 L416.58,47.24 L415.89,47.36 L415.2,47.48 L414.51,47.6 L413.81,47.72 L413.12,47.84 L412.43,47.96 L411.74,48.08 L411.04,48.21 L410.35,48.33 L409.66,48.45 L408.97,48.58 L408.27,48.7 L407.58,48.83 L406.89,48.96 L406.19,49.08 L405.5,49.21 L404.8,49.34 L404.11,49.47 L403.42,49.6 L402.72,49.74 L402.03,49.87 L401.33,50.01 L400.64,50.14 L399.94,50.28 L399.25,50.42 L398.55,50.56 L397.86,50.7 L397.16,50.84 L396.46,50.98 L395.77,51.13 L395.07,51.27 L394.37,51.42 L393.68,51.57 L392.98,51.72 L392.28,51.88 L391.59,52.03 L390.89,52.19 L390.2,52.35 L389.5,52.52 L388.81,52.69 L388.12,52.86 L387.43,53.03 L386.74,53.21 L386.05,53.4 L385.37,53.59 L384.69,53.78 L384.01,53.98 L383.33,54.18 L382.66,54.39 L381.99,54.61 L381.32,54.83 L380.65,55.06 L379.99,55.29 L379.33,55.53 L378.68,55.78 L378.03,56.04 L377.38,56.3 L376.74,56.57 L376.1,56.85 L375.47,57.14 L374.84,57.43 L374.22,57.74 L373.61,58.05 L372.99,58.37 L372.39,58.7 L371.79,59.04 L371.19,59.39 L370.6,59.75 L370.02,60.12 L369.45,60.5 L368.88,60.89 L368.31,61.29 L367.75,61.7 L367.2,62.12 L366.66,62.55 L366.12,62.98 L365.58,63.42 L365.05,63.88 L364.53,64.33 L364.01,64.8 L363.5,65.27 L362.99,65.76 L362.49,66.24 L362,66.74 L361.51,67.24 L361.02,67.75 L360.54,68.26 L360.07,68.78 L359.6,69.31 L359.14,69.84 L358.68,70.38 L358.23,70.92 L357.78,71.47 L357.34,72.02 L356.9,72.58 L356.47,73.14 L356.05,73.7 L355.62,74.27 L355.21,74.84 L354.79,75.42 L354.39,76 L353.99,76.58 L353.59,77.16 L353.19,77.75 L352.81,78.34 L352.42,78.94 L352.05,79.53 L351.67,80.13 L351.3,80.73 L350.94,81.34 L350.58,81.95 L350.23,82.56 L349.88,83.17 L349.53,83.79 L349.19,84.41 L348.86,85.03 L348.53,85.65 L348.21,86.28 L347.89,86.91 L347.57,87.54 L347.26,88.18 L346.96,88.82 L346.66,89.46 L346.37,90.11 L346.08,90.76 L345.8,91.41 L345.52,92.06 L345.24,92.72 L344.98,93.38 L344.71,94.04 L344.45,94.7 L344.2,95.37 L343.95,96.04 L343.71,96.72 L343.47,97.39 L343.24,98.07 L343.01,98.75 L342.79,99.43 L342.56,100.12 L342.34,100.8 L342.12,101.49 L341.91,102.17 L341.69,102.86 L341.48,103.54 L341.26,104.23 L341.04,104.91 L340.83,105.59 L340.61,106.27 L340.39,106.95 L340.16,107.63 L339.94,108.3 L339.71,108.97 L339.48,109.64 L339.24,110.3 L338.99,110.96 L338.75,111.62 L338.49,112.27 L338.23,112.91 L337.96,113.55 L337.69,114.19 L337.41,114.81 L337.12,115.44 L336.82,116.05 L336.51,116.66 L336.19,117.26 L335.86,117.85 L335.52,118.44 L335.17,119.02 L334.81,119.58 L334.43,120.14 L334.05,120.69 L333.65,121.24 L333.24,121.77 L332.82,122.29 L332.39,122.81 L331.94,123.31 L331.49,123.81 L331.03,124.3 L330.55,124.77 L330.07,125.24 L329.57,125.7 L329.07,126.15 L328.55,126.59 L328.03,127.02 L327.49,127.44 L326.95,127.85 L326.4,128.25 L325.84,128.64 L325.27,129.02 L324.69,129.39 L324.1,129.75 L323.5,130.1 L322.9,130.44 L322.28,130.77 L321.66,131.09 L321.03,131.4 L320.4,131.7 L319.76,131.99 L319.1,132.27 L318.45,132.54 L317.79,132.81 L317.12,133.06 L316.44,133.31 L315.77,133.55 L315.08,133.79 L314.4,134.02 L313.71,134.24 L313.01,134.46 L312.31,134.67 L311.61,134.88 L310.91,135.08 L310.2,135.28 L309.5,135.47 L308.79,135.67 L308.08,135.86 L307.37,136.05 L306.66,136.23 L305.95,136.42 L305.24,136.6 L304.53,136.79 L303.83,136.97 L303.12,137.16 L302.42,137.34 L301.71,137.53 L301.01,137.71 L300.32,137.9 L299.63,138.09 L298.94,138.29 L298.25,138.49 L297.57,138.69 L296.89,138.89 L296.22,139.1 L295.56,139.31 L294.9,139.53 L294.24,139.76 L293.6,139.99 L292.96,140.23 L292.32,140.47 L291.7,140.72 L291.08,140.98 L290.47,141.25 L289.87,141.52 L289.28,141.81 L288.7,142.1 L288.7,142.1 L289.39,142.09 L290.08,142.07 L290.77,142.05 L291.46,142.03 L292.15,142.01 L292.85,141.98 L293.54,141.95 L294.24,141.92 L294.94,141.89 L295.63,141.85 L296.33,141.81 L297.03,141.77 L297.73,141.73 L298.43,141.68 L299.13,141.63 L299.83,141.58 L300.54,141.52 L301.24,141.47 L301.94,141.41 L302.65,141.34 L303.35,141.28 L304.05,141.21 L304.76,141.14 L305.46,141.06 L306.17,140.99 L306.87,140.91 L307.58,140.83 L308.29,140.74 L308.99,140.65 L309.7,140.56 L310.4,140.47 L311.11,140.38 L311.81,140.28 L312.52,140.18 L313.23,140.07 L313.93,139.96 L314.64,139.85 L315.34,139.74 L316.04,139.63 L316.75,139.51 L317.45,139.39 L318.16,139.26 L318.86,139.14 L319.56,139.01 L320.26,138.87 L320.96,138.74 L321.66,138.6 L322.36,138.46 L323.06,138.31 L323.76,138.17 L324.46,138.02 L325.16,137.86 L325.85,137.71 L326.55,137.55 L327.24,137.39 L327.94,137.22 L328.63,137.05 L329.32,136.88 L330.01,136.71 L330.7,136.53 L331.39,136.35 L332.07,136.17 L332.76,135.98 L333.44,135.8 L334.12,135.6 L334.81,135.41 L335.49,135.21 L336.16,135.01 L336.84,134.8 L337.52,134.6 L338.19,134.38 L338.86,134.17 L339.53,133.95 L340.2,133.73 L340.86,133.51 L341.53,133.28 L342.19,133.05 L342.85,132.81 L343.51,132.58 L344.16,132.33 L344.82,132.09 L345.47,131.84 L346.12,131.59 L346.77,131.34 L347.41,131.08 L348.05,130.82 L348.69,130.55 L349.33,130.28 L349.96,130.01 L350.59,129.73 L351.22,129.45 L351.85,129.17 L352.47,128.88 L353.09,128.59 L353.71,128.29 L354.33,128 L354.94,127.69 L355.55,127.39 L356.15,127.08 L356.76,126.76 L357.36,126.45 L357.95,126.13 L358.54,125.8 L359.13,125.47 L359.72,125.14 L360.3,124.8" fill="none" stroke="#000000" stroke-width="2.0" stroke-linejoin="round" stroke-linecap="round"/>
<rect x="500.05" y="15.85" width="183.45" height="147.6" fill="none" stroke="#000" stroke-width="1.9"/>
<line x1="510.28" y1="163.45" x2="510.28" y2="160.9" stroke="#000" stroke-width="1.3"/>
<text x="510.28" y="173.75" font-size="9.2" font-weight="bold" text-anchor="middle" fill="#000" >-4</text>
<line x1="530.66" y1="163.45" x2="530.66" y2="160.9" stroke="#000" stroke-width="1.3"/>
<text x="530.66" y="173.75" font-size="9.2" font-weight="bold" text-anchor="middle" fill="#000" >-3</text>
<line x1="551.04" y1="163.45" x2="551.04" y2="160.9" stroke="#000" stroke-width="1.3"/>
<text x="551.04" y="173.75" font-size="9.2" font-weight="bold" text-anchor="middle" fill="#000" >-2</text>
<line x1="571.42" y1="163.45" x2="571.42" y2="160.9" stroke="#000" stroke-width="1.3"/>
<text x="571.42" y="173.75" font-size="9.2" font-weight="bold" text-anchor="middle" fill="#000" >-1</text>
<line x1="591.8" y1="163.45" x2="591.8" y2="160.9" stroke="#000" stroke-width="1.3"/>
<text x="591.8" y="173.75" font-size="9.2" font-weight="bold" text-anchor="middle" fill="#000" >0</text>
<line x1="612.18" y1="163.45" x2="612.18" y2="160.9" stroke="#000" stroke-width="1.3"/>
<text x="612.18" y="173.75" font-size="9.2" font-weight="bold" text-anchor="middle" fill="#000" >1</text>
<line x1="632.56" y1="163.45" x2="632.56" y2="160.9" stroke="#000" stroke-width="1.3"/>
<text x="632.56" y="173.75" font-size="9.2" font-weight="bold" text-anchor="middle" fill="#000" >2</text>
<line x1="652.94" y1="163.45" x2="652.94" y2="160.9" stroke="#000" stroke-width="1.3"/>
<text x="652.94" y="173.75" font-size="9.2" font-weight="bold" text-anchor="middle" fill="#000" >3</text>
<line x1="673.32" y1="163.45" x2="673.32" y2="160.9" stroke="#000" stroke-width="1.3"/>
<text x="673.32" y="173.75" font-size="9.2" font-weight="bold" text-anchor="middle" fill="#000" >4</text>
<line x1="500.05" y1="22.47" x2="502.6" y2="22.47" stroke="#000" stroke-width="1.3"/>
<text x="497.05" y="25.72" font-size="9.2" font-weight="bold" text-anchor="end" fill="#000" >80</text>
<line x1="500.05" y1="35.91" x2="502.6" y2="35.91" stroke="#000" stroke-width="1.3"/>
<text x="497.05" y="39.16" font-size="9.2" font-weight="bold" text-anchor="end" fill="#000" >70</text>
<line x1="500.05" y1="49.34" x2="502.6" y2="49.34" stroke="#000" stroke-width="1.3"/>
<text x="497.05" y="52.59" font-size="9.2" font-weight="bold" text-anchor="end" fill="#000" >60</text>
<line x1="500.05" y1="62.77" x2="502.6" y2="62.77" stroke="#000" stroke-width="1.3"/>
<text x="497.05" y="66.02" font-size="9.2" font-weight="bold" text-anchor="end" fill="#000" >50</text>
<line x1="500.05" y1="76.21" x2="502.6" y2="76.21" stroke="#000" stroke-width="1.3"/>
<text x="497.05" y="79.46" font-size="9.2" font-weight="bold" text-anchor="end" fill="#000" >40</text>
<line x1="500.05" y1="89.64" x2="502.6" y2="89.64" stroke="#000" stroke-width="1.3"/>
<text x="497.05" y="92.89" font-size="9.2" font-weight="bold" text-anchor="end" fill="#000" >30</text>
<line x1="500.05" y1="103.08" x2="502.6" y2="103.08" stroke="#000" stroke-width="1.3"/>
<text x="497.05" y="106.33" font-size="9.2" font-weight="bold" text-anchor="end" fill="#000" >20</text>
<line x1="500.05" y1="116.51" x2="502.6" y2="116.51" stroke="#000" stroke-width="1.3"/>
<text x="497.05" y="119.76" font-size="9.2" font-weight="bold" text-anchor="end" fill="#000" >10</text>
<line x1="500.05" y1="129.95" x2="502.6" y2="129.95" stroke="#000" stroke-width="1.3"/>
<text x="497.05" y="133.2" font-size="9.2" font-weight="bold" text-anchor="end" fill="#000" >0</text>
<line x1="500.05" y1="143.38" x2="502.6" y2="143.38" stroke="#000" stroke-width="1.3"/>
<text x="497.05" y="146.63" font-size="9.2" font-weight="bold" text-anchor="end" fill="#000" >-10</text>
<line x1="500.05" y1="156.82" x2="502.6" y2="156.82" stroke="#000" stroke-width="1.3"/>
<text x="497.05" y="160.07" font-size="9.2" font-weight="bold" text-anchor="end" fill="#000" >-20</text>
<text x="585.1" y="8.9" font-size="9.7" font-weight="bold" text-anchor="middle" fill="#000" >On TiN (110)</text>
<text x="592" y="189" font-size="9.2" font-weight="bold" text-anchor="middle" fill="#000" >Electric field (MV/cm)</text>
<text transform="translate(479.6,130.4) rotate(-90)" font-size="9.05" font-weight="bold" fill="#000">Polarization (&#956;C/cm<tspan font-size="6.24" dx="0.2" dy="-3.5">2</tspan><tspan dy="3.5">)</tspan></text>
<line x1="506.4" y1="26.8" x2="528" y2="26.8" stroke="#c4c4c4" stroke-width="1.6"/>
<line x1="507.2" y1="39.4" x2="527.7" y2="39.4" stroke="#0000ff" stroke-width="1.9"/>
<text x="530.2" y="29.95" font-size="9.1" font-weight="bold" text-anchor="start" fill="#000" >Pristine</text>
<text x="530.2" y="42.4" font-size="9.1" font-weight="bold" text-anchor="start" fill="#000" >After 10<tspan font-size="5.6" dy="-3.4">7</tspan><tspan dy="3.4"> cycles</tspan></text>
<path d="M592,133 L592.63,132.72 L593.26,132.45 L593.9,132.18 L594.54,131.91 L595.18,131.64 L595.83,131.38 L596.47,131.12 L597.13,130.86 L597.78,130.6 L598.44,130.35 L599.09,130.09 L599.76,129.84 L600.42,129.59 L601.08,129.34 L601.75,129.09 L602.42,128.84 L603.09,128.6 L603.76,128.35 L604.43,128.1 L605.1,127.86 L605.78,127.61 L606.45,127.36 L607.13,127.12 L607.8,126.87 L608.48,126.62 L609.15,126.37 L609.83,126.12 L610.5,125.87 L611.18,125.62 L611.85,125.37 L612.53,125.11 L613.2,124.86 L613.87,124.6 L614.55,124.34 L615.22,124.08 L615.88,123.81 L616.55,123.54 L617.22,123.27 L617.88,123 L618.54,122.72 L619.2,122.44 L619.86,122.16 L620.52,121.88 L621.17,121.59 L621.82,121.29 L622.47,120.99 L623.11,120.69 L623.75,120.39 L624.39,120.08 L625.03,119.76 L625.66,119.44 L626.29,119.12 L626.91,118.79 L627.53,118.45 L628.15,118.11 L628.76,117.77 L629.36,117.42 L629.97,117.06 L630.56,116.7 L631.16,116.33 L631.75,115.95 L632.33,115.57 L632.91,115.18 L633.48,114.78 L634.04,114.38 L634.6,113.97 L635.15,113.55 L635.7,113.13 L636.24,112.69 L636.77,112.25 L637.3,111.8 L637.81,111.34 L638.32,110.87 L638.82,110.39 L639.32,109.9 L639.8,109.41 L640.28,108.9 L640.74,108.39 L641.2,107.86 L641.65,107.32 L642.09,106.77 L642.52,106.22 L642.93,105.65 L643.34,105.07 L643.74,104.48 L644.13,103.88 L644.52,103.28 L644.9,102.67 L645.28,102.06 L645.66,101.45 L646.04,100.84 L646.42,100.22 L646.81,99.62 L647.19,99.01 L647.59,98.42 L647.99,97.83 L648.4,97.25 L648.82,96.68 L649.24,96.12 L649.68,95.57 L650.13,95.04 L650.59,94.52 L651.06,94.02 L651.54,93.53 L652.04,93.06 L652.55,92.61 L653.08,92.18 L653.62,91.77 L654.18,91.38 L654.76,91.02 L655.35,90.68 L655.96,90.36 L656.6,90.08 L657.25,89.82 L657.93,89.59 L658.62,89.39 L659.34,89.23 L660.08,89.09 L660.85,88.99 L661.64,88.92 L662.46,88.89 L663.3,88.9 L663.3,88.9 L662.63,89.03 L661.95,89.15 L661.27,89.28 L660.59,89.4 L659.91,89.53 L659.23,89.65 L658.54,89.77 L657.86,89.89 L657.17,90.02 L656.48,90.14 L655.79,90.26 L655.1,90.39 L654.41,90.51 L653.72,90.63 L653.03,90.76 L652.33,90.88 L651.64,91 L650.94,91.13 L650.25,91.26 L649.55,91.38 L648.85,91.51 L648.16,91.64 L647.46,91.77 L646.76,91.91 L646.06,92.04 L645.36,92.17 L644.67,92.31 L643.97,92.45 L643.27,92.59 L642.57,92.73 L641.88,92.88 L641.18,93.02 L640.48,93.17 L639.79,93.32 L639.09,93.48 L638.4,93.63 L637.71,93.79 L637.01,93.96 L636.32,94.12 L635.63,94.29 L634.94,94.46 L634.25,94.63 L633.56,94.81 L632.88,94.99 L632.19,95.17 L631.51,95.36 L630.83,95.55 L630.15,95.75 L629.47,95.95 L628.79,96.15 L628.12,96.36 L627.45,96.57 L626.77,96.78 L626.11,97 L625.44,97.23 L624.77,97.46 L624.11,97.69 L623.45,97.93 L622.79,98.17 L622.14,98.42 L621.49,98.67 L620.84,98.93 L620.19,99.19 L619.54,99.46 L618.9,99.74 L618.26,100.02 L617.63,100.3 L617,100.6 L616.37,100.89 L615.74,101.2 L615.12,101.51 L614.5,101.82 L613.88,102.14 L613.27,102.47 L612.66,102.81 L612.06,103.15 L611.46,103.5 L610.86,103.85 L610.26,104.21 L609.67,104.58 L609.08,104.95 L608.5,105.33 L607.92,105.71 L607.34,106.1 L606.77,106.49 L606.2,106.9 L605.63,107.3 L605.07,107.71 L604.51,108.13 L603.96,108.55 L603.4,108.98 L602.86,109.42 L602.31,109.86 L601.77,110.3 L601.23,110.75 L600.69,111.2 L600.16,111.66 L599.63,112.12 L599.11,112.59 L598.58,113.05 L598.06,113.52 L597.53,113.99 L597.01,114.46 L596.49,114.93 L595.96,115.4 L595.43,115.86 L594.91,116.32 L594.38,116.78 L593.84,117.23 L593.31,117.68 L592.76,118.12 L592.22,118.55 L591.67,118.98 L591.11,119.4 L590.55,119.81 L589.99,120.21 L589.42,120.61 L588.85,121 L588.27,121.38 L587.69,121.76 L587.1,122.13 L586.52,122.5 L585.92,122.86 L585.33,123.21 L584.73,123.56 L584.12,123.9 L583.52,124.24 L582.91,124.57 L582.3,124.9 L581.68,125.22 L581.06,125.54 L580.44,125.85 L579.82,126.16 L579.19,126.47 L578.56,126.77 L577.93,127.07 L577.29,127.36 L576.66,127.65 L576.02,127.94 L575.38,128.23 L574.74,128.51 L574.09,128.79 L573.45,129.06 L572.8,129.34 L572.15,129.61 L571.5,129.88 L570.85,130.14 L570.2,130.41 L569.55,130.67 L568.89,130.94 L568.24,131.2 L567.58,131.46 L566.93,131.72 L566.27,131.97 L565.61,132.23 L564.95,132.49 L564.3,132.74 L563.64,133 L562.98,133.26 L562.32,133.51 L561.66,133.77 L561.01,134.03 L560.35,134.29 L559.69,134.55 L559.04,134.81 L558.38,135.07 L557.73,135.33 L557.07,135.59 L556.42,135.86 L555.77,136.12 L555.12,136.39 L554.47,136.66 L553.82,136.94 L553.18,137.21 L552.53,137.49 L551.89,137.77 L551.24,138.05 L550.6,138.34 L549.97,138.63 L549.33,138.92 L548.69,139.21 L548.06,139.51 L547.43,139.81 L546.8,140.12 L546.17,140.43 L545.55,140.74 L544.93,141.06 L544.31,141.38 L543.69,141.7 L543.07,142.03 L542.46,142.37 L541.85,142.71 L541.25,143.05 L540.64,143.4 L540.04,143.76 L539.44,144.12 L538.85,144.48 L538.26,144.85 L537.67,145.23 L537.08,145.61 L536.5,146 L535.92,146.39 L535.35,146.79 L534.78,147.2 L534.21,147.61 L533.64,148.02 L533.08,148.44 L532.52,148.86 L531.95,149.29 L531.39,149.71 L530.83,150.14 L530.27,150.57 L529.71,151 L529.15,151.42 L528.59,151.85 L528.03,152.27 L527.46,152.69 L526.9,153.11 L526.33,153.52 L525.75,153.93 L525.18,154.34 L524.6,154.73 L524.01,155.13 L523.42,155.51 L522.83,155.89 L522.23,156.25 L521.63,156.61 L521.02,156.96 L520.4,157.3 L520.4,157.3 L521.1,157.23 L521.8,157.16 L522.5,157.09 L523.21,157.02 L523.91,156.95 L524.61,156.87 L525.31,156.79 L526.01,156.71 L526.72,156.62 L527.42,156.54 L528.12,156.45 L528.82,156.36 L529.52,156.26 L530.22,156.17 L530.93,156.07 L531.63,155.97 L532.33,155.87 L533.03,155.76 L533.73,155.66 L534.43,155.55 L535.13,155.43 L535.83,155.32 L536.53,155.2 L537.23,155.08 L537.93,154.96 L538.62,154.83 L539.32,154.7 L540.02,154.57 L540.72,154.44 L541.41,154.3 L542.11,154.16 L542.8,154.02 L543.5,153.88 L544.19,153.73 L544.88,153.58 L545.57,153.43 L546.27,153.27 L546.96,153.11 L547.65,152.95 L548.34,152.78 L549.03,152.62 L549.71,152.45 L550.4,152.27 L551.09,152.09 L551.77,151.91 L552.46,151.73 L553.14,151.55 L553.82,151.36 L554.5,151.16 L555.18,150.97 L555.86,150.77 L556.54,150.57 L557.22,150.36 L557.89,150.15 L558.57,149.94 L559.24,149.73 L559.91,149.51 L560.58,149.29 L561.25,149.06 L561.92,148.83 L562.59,148.6 L563.25,148.36 L563.92,148.13 L564.58,147.88 L565.24,147.64 L565.9,147.39 L566.56,147.13 L567.22,146.88 L567.87,146.62 L568.53,146.35 L569.18,146.09 L569.83,145.81 L570.48,145.54 L571.13,145.26 L571.78,144.98 L572.42,144.69 L573.06,144.4 L573.7,144.11 L574.34,143.81 L574.98,143.51 L575.62,143.2 L576.25,142.89 L576.88,142.58 L577.51,142.26 L578.14,141.94 L578.77,141.62 L579.39,141.29 L580.01,140.95 L580.63,140.62 L581.25,140.27 L581.87,139.93 L582.48,139.58 L583.09,139.23 L583.7,138.87 L584.31,138.5 L584.92,138.14 L585.52,137.77 L586.12,137.39 L586.72,137.01 L587.31,136.63 L587.91,136.24 L588.5,135.85 L589.09,135.45 L589.68,135.05 L590.26,134.64 L590.84,134.23 L591.42,133.82 L592,133.4" fill="none" stroke="#c4c4c4" stroke-width="1.8" stroke-linejoin="round" stroke-linecap="round"/>
<path d="M591.6,129.6 L592.35,129.54 L593.09,129.47 L593.82,129.39 L594.55,129.29 L595.27,129.17 L595.99,129.05 L596.7,128.9 L597.41,128.75 L598.11,128.58 L598.8,128.39 L599.49,128.2 L600.17,127.99 L600.85,127.77 L601.51,127.53 L602.18,127.28 L602.83,127.02 L603.48,126.75 L604.12,126.47 L604.76,126.17 L605.39,125.86 L606.01,125.54 L606.63,125.21 L607.24,124.87 L607.84,124.52 L608.43,124.15 L609.02,123.78 L609.6,123.39 L610.17,123 L610.74,122.59 L611.29,122.18 L611.84,121.75 L612.39,121.32 L612.92,120.87 L613.45,120.42 L613.97,119.95 L614.48,119.48 L614.98,119 L615.48,118.51 L615.96,118.01 L616.44,117.5 L616.92,116.99 L617.38,116.47 L617.84,115.94 L618.29,115.4 L618.74,114.86 L619.18,114.31 L619.61,113.75 L620.04,113.19 L620.46,112.62 L620.88,112.05 L621.29,111.47 L621.7,110.88 L622.1,110.29 L622.5,109.7 L622.9,109.1 L623.29,108.5 L623.67,107.9 L624.06,107.29 L624.44,106.68 L624.81,106.06 L625.19,105.44 L625.56,104.82 L625.93,104.2 L626.29,103.58 L626.66,102.95 L627.02,102.32 L627.38,101.7 L627.74,101.07 L628.1,100.44 L628.46,99.81 L628.82,99.18 L629.18,98.55 L629.53,97.92 L629.89,97.29 L630.25,96.66 L630.61,96.03 L630.97,95.41 L631.33,94.79 L631.7,94.17 L632.06,93.55 L632.43,92.94 L632.8,92.33 L633.17,91.72 L633.55,91.12 L633.93,90.52 L634.32,89.93 L634.71,89.34 L635.1,88.76 L635.5,88.18 L635.91,87.61 L636.32,87.05 L636.73,86.49 L637.15,85.94 L637.58,85.4 L638.02,84.87 L638.46,84.34 L638.91,83.83 L639.37,83.32 L639.83,82.82 L640.31,82.33 L640.79,81.85 L641.29,81.38 L641.79,80.93 L642.3,80.48 L642.82,80.04 L643.35,79.62 L643.89,79.2 L644.44,78.8 L645,78.41 L645.57,78.03 L646.15,77.67 L646.74,77.31 L647.34,76.97 L647.95,76.64 L648.56,76.32 L649.19,76.01 L649.82,75.72 L650.46,75.43 L651.11,75.16 L651.77,74.9 L652.43,74.66 L653.1,74.43 L653.79,74.2 L654.48,74 L655.17,73.8 L655.88,73.62 L656.59,73.45 L657.31,73.29 L658.03,73.14 L658.76,73.01 L659.5,72.89 L660.25,72.79 L661,72.7 L661.76,72.62 L662.53,72.55 L663.3,72.5 L663.3,72.5 L662.64,72.63 L661.97,72.76 L661.3,72.89 L660.63,73.02 L659.96,73.14 L659.29,73.27 L658.61,73.39 L657.93,73.52 L657.25,73.64 L656.57,73.76 L655.89,73.89 L655.2,74.01 L654.51,74.13 L653.83,74.25 L653.14,74.37 L652.45,74.49 L651.75,74.61 L651.06,74.73 L650.36,74.86 L649.67,74.98 L648.97,75.1 L648.27,75.22 L647.57,75.34 L646.87,75.46 L646.17,75.59 L645.47,75.71 L644.77,75.83 L644.07,75.96 L643.36,76.08 L642.66,76.21 L641.95,76.34 L641.25,76.46 L640.54,76.59 L639.84,76.72 L639.13,76.86 L638.43,76.99 L637.72,77.12 L637.02,77.26 L636.31,77.4 L635.61,77.54 L634.9,77.68 L634.2,77.82 L633.49,77.96 L632.79,78.11 L632.08,78.26 L631.38,78.41 L630.68,78.56 L629.98,78.71 L629.28,78.87 L628.58,79.03 L627.88,79.19 L627.18,79.36 L626.48,79.52 L625.79,79.69 L625.09,79.86 L624.4,80.04 L623.71,80.22 L623.02,80.4 L622.33,80.58 L621.64,80.77 L620.95,80.96 L620.27,81.15 L619.59,81.35 L618.9,81.55 L618.22,81.75 L617.55,81.96 L616.87,82.17 L616.2,82.38 L615.53,82.6 L614.86,82.82 L614.19,83.05 L613.52,83.28 L612.86,83.51 L612.2,83.75 L611.54,83.99 L610.89,84.24 L610.24,84.49 L609.59,84.74 L608.94,85 L608.29,85.26 L607.65,85.53 L607.01,85.81 L606.38,86.08 L605.75,86.37 L605.12,86.66 L604.49,86.95 L603.87,87.25 L603.25,87.55 L602.63,87.86 L602.02,88.17 L601.41,88.49 L600.8,88.82 L600.2,89.15 L599.6,89.48 L599.01,89.82 L598.42,90.17 L597.83,90.52 L597.25,90.88 L596.67,91.25 L596.1,91.62 L595.53,91.99 L594.96,92.38 L594.4,92.77 L593.84,93.16 L593.29,93.56 L592.74,93.97 L592.19,94.39 L591.65,94.81 L591.12,95.24 L590.59,95.67 L590.07,96.12 L589.55,96.57 L589.03,97.02 L588.52,97.48 L588.02,97.95 L587.52,98.43 L587.02,98.92 L586.53,99.41 L586.05,99.91 L585.57,100.42 L585.1,100.93 L584.63,101.45 L584.16,101.98 L583.7,102.51 L583.25,103.05 L582.79,103.59 L582.35,104.14 L581.9,104.7 L581.46,105.25 L581.02,105.82 L580.59,106.38 L580.15,106.96 L579.72,107.53 L579.3,108.11 L578.87,108.69 L578.45,109.27 L578.02,109.85 L577.6,110.44 L577.18,111.03 L576.76,111.61 L576.35,112.2 L575.93,112.8 L575.51,113.39 L575.1,113.98 L574.68,114.57 L574.26,115.16 L573.84,115.75 L573.42,116.34 L573.01,116.92 L572.58,117.51 L572.16,118.09 L571.74,118.67 L571.31,119.25 L570.89,119.83 L570.46,120.4 L570.03,120.97 L569.59,121.54 L569.16,122.1 L568.72,122.65 L568.27,123.2 L567.82,123.75 L567.37,124.29 L566.92,124.83 L566.46,125.36 L566,125.88 L565.53,126.4 L565.06,126.91 L564.58,127.42 L564.1,127.91 L563.61,128.4 L563.12,128.88 L562.62,129.36 L562.12,129.82 L561.61,130.28 L561.09,130.72 L560.57,131.16 L560.04,131.59 L559.5,132 L558.95,132.41 L558.4,132.8 L557.84,133.19 L557.27,133.57 L556.7,133.93 L556.12,134.29 L555.53,134.63 L554.94,134.97 L554.34,135.3 L553.73,135.62 L553.12,135.93 L552.5,136.23 L551.88,136.52 L551.25,136.81 L550.62,137.09 L549.98,137.37 L549.34,137.64 L548.7,137.9 L548.05,138.15 L547.39,138.4 L546.73,138.64 L546.07,138.88 L545.41,139.12 L544.74,139.35 L544.07,139.57 L543.4,139.79 L542.72,140.01 L542.04,140.23 L541.36,140.44 L540.68,140.64 L540,140.85 L539.31,141.05 L538.63,141.26 L537.94,141.45 L537.25,141.65 L536.56,141.85 L535.88,142.05 L535.19,142.24 L534.5,142.44 L533.81,142.63 L533.12,142.83 L532.43,143.03 L531.75,143.22 L531.06,143.42 L530.38,143.62 L529.69,143.83 L529.01,144.03 L528.33,144.24 L527.65,144.44 L526.98,144.66 L526.31,144.87 L525.64,145.09 L524.97,145.31 L524.31,145.54 L523.64,145.77 L522.99,146.01 L522.33,146.25 L521.69,146.49 L521.04,146.74 L520.4,147 L520.4,147 L521.11,146.98 L521.82,146.96 L522.53,146.93 L523.23,146.89 L523.94,146.85 L524.65,146.81 L525.36,146.77 L526.06,146.72 L526.77,146.66 L527.47,146.6 L528.18,146.54 L528.88,146.47 L529.59,146.4 L530.29,146.33 L531,146.25 L531.7,146.17 L532.4,146.09 L533.11,146 L533.81,145.91 L534.51,145.81 L535.21,145.72 L535.92,145.61 L536.62,145.51 L537.32,145.4 L538.02,145.29 L538.72,145.17 L539.42,145.06 L540.12,144.93 L540.82,144.81 L541.52,144.68 L542.21,144.55 L542.91,144.42 L543.61,144.28 L544.31,144.15 L545,144 L545.7,143.86 L546.4,143.71 L547.09,143.56 L547.79,143.41 L548.48,143.26 L549.18,143.1 L549.87,142.94 L550.57,142.78 L551.26,142.62 L551.96,142.45 L552.65,142.28 L553.34,142.11 L554.04,141.94 L554.73,141.76 L555.42,141.59 L556.11,141.41 L556.8,141.23 L557.49,141.05 L558.18,140.86 L558.87,140.68 L559.56,140.49 L560.25,140.3 L560.94,140.11 L561.63,139.92 L562.32,139.72 L563.01,139.53 L563.7,139.33 L564.38,139.13 L565.07,138.93 L565.76,138.73 L566.44,138.53 L567.13,138.32 L567.81,138.12 L568.5,137.91 L569.19,137.7 L569.87,137.5 L570.55,137.29 L571.24,137.08 L571.92,136.87 L572.61,136.66 L573.29,136.44 L573.97,136.23 L574.65,136.02 L575.34,135.8 L576.02,135.59 L576.7,135.37 L577.38,135.16 L578.06,134.94 L578.74,134.72 L579.42,134.51 L580.1,134.29 L580.78,134.07 L581.46,133.85 L582.14,133.64 L582.81,133.42 L583.49,133.2 L584.17,132.98 L584.85,132.77 L585.52,132.55 L586.2,132.33 L586.88,132.11 L587.55,131.9 L588.23,131.68 L588.9,131.46 L589.58,131.25 L590.25,131.03 L590.93,130.81 L591.6,130.6" fill="none" stroke="#0000ff" stroke-width="2.0" stroke-linejoin="round" stroke-linecap="round"/>
<rect x="34.05" y="200.05" width="183.9" height="147.8" fill="none" stroke="#000" stroke-width="1.9"/>
<line x1="44.3" y1="347.85" x2="44.3" y2="345.3" stroke="#000" stroke-width="1.3"/>
<text x="44.3" y="358.15" font-size="9.2" font-weight="bold" text-anchor="middle" fill="#000" >-4</text>
<line x1="64.7" y1="347.85" x2="64.7" y2="345.3" stroke="#000" stroke-width="1.3"/>
<text x="64.7" y="358.15" font-size="9.2" font-weight="bold" text-anchor="middle" fill="#000" >-3</text>
<line x1="85.1" y1="347.85" x2="85.1" y2="345.3" stroke="#000" stroke-width="1.3"/>
<text x="85.1" y="358.15" font-size="9.2" font-weight="bold" text-anchor="middle" fill="#000" >-2</text>
<line x1="105.5" y1="347.85" x2="105.5" y2="345.3" stroke="#000" stroke-width="1.3"/>
<text x="105.5" y="358.15" font-size="9.2" font-weight="bold" text-anchor="middle" fill="#000" >-1</text>
<line x1="125.9" y1="347.85" x2="125.9" y2="345.3" stroke="#000" stroke-width="1.3"/>
<text x="125.9" y="358.15" font-size="9.2" font-weight="bold" text-anchor="middle" fill="#000" >0</text>
<line x1="146.3" y1="347.85" x2="146.3" y2="345.3" stroke="#000" stroke-width="1.3"/>
<text x="146.3" y="358.15" font-size="9.2" font-weight="bold" text-anchor="middle" fill="#000" >1</text>
<line x1="166.7" y1="347.85" x2="166.7" y2="345.3" stroke="#000" stroke-width="1.3"/>
<text x="166.7" y="358.15" font-size="9.2" font-weight="bold" text-anchor="middle" fill="#000" >2</text>
<line x1="187.1" y1="347.85" x2="187.1" y2="345.3" stroke="#000" stroke-width="1.3"/>
<text x="187.1" y="358.15" font-size="9.2" font-weight="bold" text-anchor="middle" fill="#000" >3</text>
<line x1="207.5" y1="347.85" x2="207.5" y2="345.3" stroke="#000" stroke-width="1.3"/>
<text x="207.5" y="358.15" font-size="9.2" font-weight="bold" text-anchor="middle" fill="#000" >4</text>
<line x1="34.05" y1="206.9" x2="36.6" y2="206.9" stroke="#000" stroke-width="1.3"/>
<text x="31.05" y="210.15" font-size="9.2" font-weight="bold" text-anchor="end" fill="#000" >50</text>
<line x1="34.05" y1="221.69" x2="36.6" y2="221.69" stroke="#000" stroke-width="1.3"/>
<text x="31.05" y="224.94" font-size="9.2" font-weight="bold" text-anchor="end" fill="#000" >40</text>
<line x1="34.05" y1="236.49" x2="36.6" y2="236.49" stroke="#000" stroke-width="1.3"/>
<text x="31.05" y="239.74" font-size="9.2" font-weight="bold" text-anchor="end" fill="#000" >30</text>
<line x1="34.05" y1="251.28" x2="36.6" y2="251.28" stroke="#000" stroke-width="1.3"/>
<text x="31.05" y="254.53" font-size="9.2" font-weight="bold" text-anchor="end" fill="#000" >20</text>
<line x1="34.05" y1="266.08" x2="36.6" y2="266.08" stroke="#000" stroke-width="1.3"/>
<text x="31.05" y="269.33" font-size="9.2" font-weight="bold" text-anchor="end" fill="#000" >10</text>
<line x1="34.05" y1="280.87" x2="36.6" y2="280.87" stroke="#000" stroke-width="1.3"/>
<text x="31.05" y="284.12" font-size="9.2" font-weight="bold" text-anchor="end" fill="#000" >0</text>
<line x1="34.05" y1="295.66" x2="36.6" y2="295.66" stroke="#000" stroke-width="1.3"/>
<text x="31.05" y="298.91" font-size="9.2" font-weight="bold" text-anchor="end" fill="#000" >-10</text>
<line x1="34.05" y1="310.46" x2="36.6" y2="310.46" stroke="#000" stroke-width="1.3"/>
<text x="31.05" y="313.71" font-size="9.2" font-weight="bold" text-anchor="end" fill="#000" >-20</text>
<line x1="34.05" y1="325.25" x2="36.6" y2="325.25" stroke="#000" stroke-width="1.3"/>
<text x="31.05" y="328.5" font-size="9.2" font-weight="bold" text-anchor="end" fill="#000" >-30</text>
<line x1="34.05" y1="340.05" x2="36.6" y2="340.05" stroke="#000" stroke-width="1.3"/>
<text x="31.05" y="343.3" font-size="9.2" font-weight="bold" text-anchor="end" fill="#000" >-40</text>
<text x="125.8" y="373.3" font-size="9.2" font-weight="bold" text-anchor="middle" fill="#000" >Electric field (MV/cm)</text>
<text transform="translate(11.5,314.3) rotate(-90)" font-size="9.05" font-weight="bold" fill="#000">Polarization (&#956;C/cm<tspan font-size="6.24" dx="0.2" dy="-3.5">2</tspan><tspan dy="3.5">)</tspan></text>
<line x1="36.9" y1="210.8" x2="58.7" y2="210.8" stroke="#ff0000" stroke-width="1.9"/>
<line x1="38.1" y1="222.3" x2="57.9" y2="222.3" stroke="#0000ff" stroke-width="1.9"/>
<line x1="38.1" y1="233.8" x2="57.9" y2="233.8" stroke="#000000" stroke-width="1.9"/>
<text x="60.8" y="214" font-size="9.3" font-weight="bold" text-anchor="start" fill="#000" >On TiN (001)</text>
<text x="60.8" y="225.5" font-size="9.3" font-weight="bold" text-anchor="start" fill="#000" >On TiN (110)</text>
<text x="60.8" y="237" font-size="9.3" font-weight="bold" text-anchor="start" fill="#000" >On TiN (111)</text>
<path d="M126.2,300.3 L126.94,300.2 L127.67,300.09 L128.4,299.97 L129.13,299.83 L129.85,299.68 L130.56,299.52 L131.27,299.35 L131.98,299.16 L132.68,298.96 L133.37,298.75 L134.06,298.52 L134.74,298.29 L135.41,298.04 L136.08,297.78 L136.74,297.51 L137.39,297.23 L138.04,296.93 L138.68,296.63 L139.31,296.31 L139.94,295.98 L140.55,295.64 L141.16,295.29 L141.76,294.93 L142.36,294.56 L142.94,294.18 L143.52,293.78 L144.09,293.38 L144.65,292.97 L145.2,292.54 L145.74,292.11 L146.28,291.67 L146.81,291.21 L147.32,290.75 L147.83,290.28 L148.34,289.8 L148.83,289.31 L149.31,288.81 L149.79,288.31 L150.26,287.79 L150.72,287.27 L151.17,286.74 L151.61,286.2 L152.04,285.66 L152.46,285.1 L152.88,284.54 L153.28,283.97 L153.68,283.4 L154.07,282.82 L154.45,282.23 L154.82,281.63 L155.18,281.03 L155.53,280.42 L155.88,279.81 L156.22,279.19 L156.55,278.57 L156.88,277.94 L157.2,277.31 L157.51,276.67 L157.82,276.03 L158.12,275.39 L158.42,274.74 L158.72,274.09 L159.02,273.44 L159.31,272.79 L159.6,272.13 L159.88,271.47 L160.17,270.82 L160.45,270.16 L160.74,269.5 L161.02,268.84 L161.31,268.19 L161.59,267.53 L161.88,266.87 L162.17,266.22 L162.46,265.57 L162.75,264.92 L163.05,264.27 L163.35,263.62 L163.66,262.98 L163.97,262.34 L164.28,261.71 L164.6,261.08 L164.93,260.45 L165.26,259.83 L165.6,259.21 L165.94,258.6 L166.3,257.99 L166.66,257.39 L167.03,256.8 L167.41,256.21 L167.8,255.63 L168.19,255.06 L168.6,254.49 L169.01,253.93 L169.43,253.38 L169.86,252.83 L170.3,252.29 L170.74,251.76 L171.2,251.24 L171.66,250.73 L172.13,250.22 L172.61,249.72 L173.09,249.23 L173.59,248.75 L174.09,248.27 L174.6,247.81 L175.12,247.35 L175.64,246.91 L176.17,246.47 L176.71,246.04 L177.26,245.62 L177.82,245.21 L178.38,244.81 L178.95,244.42 L179.53,244.03 L180.11,243.66 L180.7,243.3 L181.3,242.95 L181.91,242.61 L182.52,242.28 L183.14,241.96 L183.77,241.65 L184.4,241.35 L185.05,241.06 L185.69,240.78 L186.35,240.52 L187.01,240.26 L187.68,240.02 L188.35,239.79 L189.03,239.57 L189.72,239.36 L190.42,239.17 L191.12,238.98 L191.82,238.81 L192.54,238.65 L193.26,238.51 L193.98,238.37 L194.71,238.25 L195.45,238.15 L196.2,238.05 L196.95,237.97 L197.7,237.9 L197.7,237.9 L197,237.98 L196.3,238.07 L195.6,238.15 L194.91,238.24 L194.21,238.33 L193.51,238.42 L192.81,238.52 L192.12,238.62 L191.42,238.71 L190.73,238.82 L190.03,238.92 L189.34,239.02 L188.65,239.13 L187.95,239.24 L187.26,239.35 L186.57,239.46 L185.88,239.58 L185.19,239.7 L184.49,239.82 L183.8,239.94 L183.11,240.06 L182.42,240.19 L181.73,240.32 L181.05,240.45 L180.36,240.58 L179.67,240.72 L178.98,240.85 L178.29,240.99 L177.61,241.14 L176.92,241.28 L176.24,241.42 L175.55,241.57 L174.86,241.72 L174.18,241.87 L173.49,242.03 L172.81,242.19 L172.13,242.34 L171.44,242.51 L170.76,242.67 L170.08,242.83 L169.39,243 L168.71,243.17 L168.03,243.34 L167.35,243.52 L166.66,243.69 L165.98,243.87 L165.3,244.05 L164.62,244.24 L163.94,244.42 L163.26,244.61 L162.58,244.8 L161.9,244.99 L161.22,245.19 L160.54,245.38 L159.86,245.58 L159.18,245.78 L158.51,245.99 L157.83,246.19 L157.15,246.4 L156.47,246.61 L155.79,246.82 L155.12,247.04 L154.44,247.26 L153.76,247.48 L153.09,247.7 L152.41,247.93 L151.74,248.16 L151.07,248.39 L150.4,248.62 L149.73,248.86 L149.06,249.1 L148.39,249.35 L147.73,249.6 L147.06,249.85 L146.4,250.11 L145.74,250.37 L145.09,250.63 L144.43,250.9 L143.78,251.17 L143.13,251.45 L142.49,251.73 L141.84,252.02 L141.2,252.31 L140.56,252.61 L139.93,252.91 L139.3,253.21 L138.67,253.52 L138.04,253.84 L137.42,254.16 L136.81,254.49 L136.19,254.82 L135.58,255.16 L134.98,255.5 L134.38,255.85 L133.78,256.2 L133.19,256.56 L132.6,256.93 L132.02,257.31 L131.44,257.69 L130.87,258.07 L130.3,258.46 L129.74,258.86 L129.18,259.27 L128.63,259.68 L128.08,260.1 L127.54,260.53 L127.01,260.96 L126.48,261.41 L125.95,261.85 L125.44,262.31 L124.93,262.77 L124.42,263.25 L123.93,263.73 L123.43,264.21 L122.95,264.71 L122.47,265.21 L122,265.72 L121.53,266.23 L121.07,266.75 L120.61,267.28 L120.16,267.81 L119.71,268.35 L119.27,268.89 L118.83,269.44 L118.39,269.99 L117.96,270.55 L117.53,271.11 L117.11,271.67 L116.69,272.24 L116.27,272.81 L115.85,273.38 L115.44,273.96 L115.03,274.53 L114.62,275.11 L114.21,275.69 L113.81,276.27 L113.4,276.86 L113,277.44 L112.6,278.03 L112.2,278.61 L111.8,279.2 L111.4,279.79 L111,280.38 L110.61,280.97 L110.21,281.56 L109.82,282.15 L109.42,282.74 L109.03,283.33 L108.63,283.92 L108.24,284.51 L107.84,285.1 L107.45,285.69 L107.05,286.28 L106.66,286.87 L106.26,287.46 L105.86,288.05 L105.47,288.63 L105.07,289.22 L104.67,289.81 L104.27,290.39 L103.87,290.97 L103.47,291.56 L103.06,292.14 L102.66,292.72 L102.25,293.29 L101.84,293.87 L101.43,294.44 L101.02,295.02 L100.6,295.59 L100.18,296.15 L99.76,296.72 L99.34,297.28 L98.91,297.83 L98.47,298.38 L98.03,298.92 L97.59,299.46 L97.14,299.98 L96.68,300.5 L96.22,301.02 L95.75,301.52 L95.27,302.01 L94.78,302.49 L94.28,302.97 L93.78,303.43 L93.27,303.88 L92.75,304.31 L92.21,304.74 L91.68,305.16 L91.13,305.56 L90.58,305.96 L90.01,306.34 L89.44,306.72 L88.87,307.09 L88.29,307.45 L87.7,307.8 L87.1,308.14 L86.5,308.47 L85.89,308.8 L85.28,309.11 L84.66,309.42 L84.03,309.73 L83.4,310.02 L82.77,310.31 L82.13,310.59 L81.48,310.87 L80.84,311.14 L80.18,311.41 L79.53,311.67 L78.87,311.92 L78.21,312.17 L77.54,312.42 L76.87,312.66 L76.2,312.9 L75.53,313.13 L74.85,313.36 L74.18,313.59 L73.5,313.82 L72.82,314.04 L72.14,314.26 L71.45,314.47 L70.77,314.69 L70.09,314.9 L69.4,315.12 L68.72,315.33 L68.03,315.54 L67.35,315.75 L66.66,315.96 L65.98,316.17 L65.3,316.38 L64.62,316.59 L63.94,316.8 L63.26,317.02 L62.58,317.23 L61.91,317.45 L61.24,317.66 L60.57,317.88 L59.9,318.1 L59.24,318.33 L58.58,318.56 L57.92,318.79 L57.27,319.02 L56.62,319.26 L55.98,319.5 L55.34,319.75 L54.7,320 L54.7,320 L55.39,319.85 L56.08,319.7 L56.77,319.55 L57.46,319.41 L58.15,319.27 L58.84,319.12 L59.54,318.99 L60.23,318.85 L60.93,318.71 L61.62,318.58 L62.32,318.45 L63.02,318.32 L63.71,318.19 L64.41,318.07 L65.11,317.94 L65.81,317.82 L66.51,317.69 L67.21,317.57 L67.91,317.45 L68.61,317.33 L69.31,317.21 L70.01,317.09 L70.71,316.97 L71.42,316.85 L72.12,316.73 L72.82,316.62 L73.52,316.5 L74.23,316.38 L74.93,316.27 L75.63,316.15 L76.34,316.03 L77.04,315.91 L77.74,315.8 L78.44,315.68 L79.15,315.56 L79.85,315.44 L80.55,315.32 L81.25,315.2 L81.96,315.08 L82.66,314.96 L83.36,314.84 L84.06,314.71 L84.76,314.59 L85.46,314.46 L86.16,314.33 L86.86,314.2 L87.56,314.07 L88.26,313.94 L88.96,313.8 L89.66,313.67 L90.36,313.53 L91.05,313.39 L91.75,313.25 L92.45,313.1 L93.14,312.96 L93.83,312.81 L94.53,312.66 L95.22,312.5 L95.91,312.35 L96.6,312.19 L97.29,312.03 L97.98,311.86 L98.67,311.69 L99.36,311.52 L100.04,311.35 L100.73,311.17 L101.41,310.99 L102.1,310.81 L102.78,310.62 L103.46,310.43 L104.14,310.24 L104.82,310.04 L105.49,309.84 L106.17,309.63 L106.84,309.42 L107.52,309.21 L108.19,308.99 L108.86,308.77 L109.53,308.54 L110.2,308.31 L110.86,308.07 L111.53,307.83 L112.19,307.59 L112.85,307.34 L113.51,307.08 L114.17,306.82 L114.83,306.56 L115.48,306.29 L116.13,306.01 L116.78,305.73 L117.43,305.45 L118.08,305.16 L118.73,304.86 L119.37,304.56 L120.01,304.25 L120.65,303.93 L121.29,303.61 L121.93,303.29 L122.56,302.96 L123.19,302.62 L123.82,302.27 L124.45,301.92 L125.08,301.56 L125.7,301.2" fill="none" stroke="#0000ff" stroke-width="2.0" stroke-linejoin="round" stroke-linecap="round"/>
<path d="M125.9,312.3 L126.6,312.09 L127.3,311.89 L128,311.69 L128.7,311.5 L129.4,311.29 L130.1,311.09 L130.79,310.87 L131.47,310.65 L132.14,310.41 L132.8,310.16 L133.44,309.89 L134.07,309.6 L134.67,309.29 L135.26,308.95 L135.82,308.58 L136.35,308.19 L136.86,307.76 L137.33,307.3 L137.79,306.82 L138.22,306.3 L138.63,305.77 L139.02,305.21 L139.39,304.64 L139.75,304.04 L140.09,303.44 L140.42,302.82 L140.74,302.2 L141.05,301.57 L141.36,300.93 L141.66,300.3 L141.96,299.66 L142.25,299.01 L142.53,298.37 L142.81,297.72 L143.09,297.07 L143.36,296.42 L143.62,295.77 L143.88,295.11 L144.14,294.45 L144.38,293.79 L144.63,293.13 L144.87,292.46 L145.1,291.8 L145.33,291.13 L145.56,290.46 L145.78,289.79 L146,289.11 L146.21,288.44 L146.41,287.76 L146.61,287.08 L146.81,286.4 L147,285.72 L147.19,285.04 L147.38,284.35 L147.56,283.67 L147.73,282.98 L147.9,282.29 L148.07,281.6 L148.23,280.91 L148.39,280.22 L148.55,279.53 L148.7,278.84 L148.85,278.14 L148.99,277.45 L149.14,276.75 L149.28,276.06 L149.42,275.36 L149.56,274.66 L149.7,273.97 L149.83,273.27 L149.97,272.58 L150.1,271.88 L150.24,271.18 L150.37,270.49 L150.51,269.79 L150.64,269.09 L150.78,268.4 L150.92,267.7 L151.06,267.01 L151.2,266.32 L151.34,265.62 L151.49,264.93 L151.63,264.24 L151.78,263.55 L151.94,262.86 L152.09,262.17 L152.25,261.49 L152.42,260.8 L152.59,260.12 L152.76,259.43 L152.93,258.75 L153.12,258.07 L153.3,257.4 L153.49,256.72 L153.69,256.05 L153.9,255.38 L154.11,254.71 L154.32,254.04 L154.55,253.37 L154.78,252.71 L155.01,252.05 L155.26,251.39 L155.51,250.74 L155.77,250.08 L156.04,249.43 L156.32,248.79 L156.61,248.15 L156.9,247.51 L157.2,246.87 L157.52,246.25 L157.84,245.62 L158.17,245.01 L158.51,244.4 L158.86,243.79 L159.21,243.19 L159.58,242.6 L159.96,242.02 L160.35,241.45 L160.75,240.88 L161.15,240.33 L161.57,239.78 L162,239.24 L162.44,238.71 L162.89,238.2 L163.35,237.69 L163.82,237.19 L164.3,236.71 L164.8,236.24 L165.3,235.78 L165.82,235.33 L166.35,234.89 L166.89,234.47 L167.44,234.07 L168,233.67 L168.58,233.3 L169.17,232.93 L169.77,232.58 L170.38,232.25 L171,231.93 L171.63,231.62 L172.28,231.32 L172.93,231.04 L173.58,230.76 L174.25,230.5 L174.92,230.24 L175.61,230 L176.29,229.76 L176.98,229.54 L177.68,229.32 L178.38,229.1 L179.09,228.9 L179.8,228.7 L180.51,228.5 L181.22,228.31 L181.94,228.13 L182.65,227.94 L183.37,227.76 L184.08,227.59 L184.8,227.41 L185.51,227.24 L186.23,227.07 L186.94,226.89 L187.64,226.72 L188.35,226.55 L189.04,226.37 L189.74,226.19 L190.43,226.01 L191.11,225.83 L191.79,225.64 L192.46,225.45 L193.12,225.26 L193.78,225.06 L194.42,224.85 L195.06,224.63 L195.68,224.41 L196.3,224.18 L196.91,223.95 L197.5,223.7 L197.5,223.7 L196.84,223.85 L196.19,223.99 L195.53,224.14 L194.86,224.28 L194.2,224.42 L193.53,224.55 L192.86,224.69 L192.19,224.82 L191.51,224.95 L190.83,225.08 L190.15,225.21 L189.47,225.34 L188.79,225.46 L188.1,225.59 L187.41,225.71 L186.72,225.83 L186.03,225.95 L185.34,226.08 L184.65,226.19 L183.95,226.31 L183.25,226.43 L182.55,226.55 L181.85,226.67 L181.15,226.79 L180.45,226.9 L179.75,227.02 L179.04,227.14 L178.34,227.25 L177.63,227.37 L176.92,227.49 L176.22,227.61 L175.51,227.73 L174.8,227.85 L174.09,227.97 L173.38,228.09 L172.67,228.21 L171.96,228.33 L171.25,228.46 L170.54,228.58 L169.83,228.71 L169.12,228.84 L168.41,228.97 L167.7,229.1 L166.99,229.23 L166.28,229.36 L165.57,229.5 L164.87,229.64 L164.16,229.78 L163.45,229.92 L162.74,230.07 L162.04,230.21 L161.33,230.36 L160.63,230.52 L159.93,230.67 L159.23,230.83 L158.53,230.99 L157.83,231.16 L157.13,231.32 L156.43,231.49 L155.74,231.67 L155.05,231.84 L154.36,232.02 L153.67,232.21 L152.98,232.39 L152.29,232.58 L151.61,232.78 L150.92,232.98 L150.24,233.18 L149.57,233.39 L148.89,233.6 L148.22,233.82 L147.55,234.04 L146.88,234.26 L146.21,234.49 L145.55,234.73 L144.89,234.96 L144.23,235.21 L143.57,235.46 L142.92,235.71 L142.27,235.97 L141.63,236.24 L140.98,236.51 L140.34,236.78 L139.71,237.06 L139.07,237.35 L138.44,237.64 L137.82,237.94 L137.19,238.25 L136.58,238.56 L135.96,238.87 L135.35,239.2 L134.74,239.53 L134.14,239.86 L133.54,240.21 L132.94,240.56 L132.35,240.91 L131.76,241.28 L131.18,241.65 L130.6,242.02 L130.03,242.41 L129.46,242.8 L128.89,243.2 L128.33,243.61 L127.78,244.02 L127.23,244.44 L126.68,244.87 L126.14,245.31 L125.61,245.75 L125.08,246.21 L124.56,246.67 L124.04,247.14 L123.54,247.61 L123.03,248.09 L122.54,248.59 L122.06,249.09 L121.58,249.59 L121.11,250.11 L120.65,250.63 L120.2,251.16 L119.75,251.7 L119.32,252.24 L118.89,252.8 L118.48,253.36 L118.08,253.93 L117.68,254.51 L117.3,255.09 L116.93,255.69 L116.57,256.29 L116.22,256.9 L115.88,257.51 L115.55,258.13 L115.23,258.76 L114.92,259.4 L114.62,260.04 L114.32,260.68 L114.04,261.33 L113.76,261.98 L113.49,262.64 L113.23,263.3 L112.98,263.96 L112.73,264.63 L112.49,265.3 L112.26,265.97 L112.03,266.65 L111.81,267.32 L111.6,268 L111.39,268.68 L111.19,269.37 L111,270.05 L110.81,270.74 L110.62,271.43 L110.45,272.12 L110.27,272.81 L110.11,273.5 L109.94,274.19 L109.79,274.88 L109.63,275.57 L109.48,276.27 L109.34,276.96 L109.2,277.65 L109.07,278.35 L108.93,279.04 L108.8,279.74 L108.68,280.43 L108.56,281.12 L108.43,281.82 L108.32,282.51 L108.2,283.21 L108.08,283.9 L107.97,284.6 L107.85,285.29 L107.74,285.99 L107.63,286.68 L107.52,287.38 L107.4,288.07 L107.29,288.77 L107.17,289.47 L107.06,290.16 L106.94,290.86 L106.82,291.55 L106.7,292.25 L106.58,292.94 L106.45,293.64 L106.32,294.33 L106.19,295.03 L106.05,295.72 L105.92,296.42 L105.77,297.11 L105.62,297.81 L105.47,298.5 L105.31,299.2 L105.15,299.89 L104.98,300.59 L104.81,301.28 L104.63,301.97 L104.44,302.67 L104.25,303.36 L104.05,304.05 L103.84,304.73 L103.62,305.42 L103.4,306.1 L103.17,306.77 L102.92,307.45 L102.67,308.11 L102.42,308.77 L102.15,309.43 L101.87,310.08 L101.58,310.72 L101.28,311.35 L100.97,311.97 L100.65,312.59 L100.32,313.19 L99.98,313.79 L99.62,314.37 L99.25,314.94 L98.87,315.51 L98.48,316.06 L98.07,316.59 L97.65,317.12 L97.22,317.63 L96.77,318.12 L96.31,318.6 L95.84,319.07 L95.35,319.52 L94.85,319.96 L94.33,320.39 L93.81,320.8 L93.27,321.21 L92.72,321.6 L92.17,321.98 L91.6,322.34 L91.02,322.7 L90.43,323.05 L89.83,323.39 L89.22,323.72 L88.61,324.04 L87.98,324.35 L87.35,324.65 L86.71,324.94 L86.06,325.23 L85.41,325.51 L84.75,325.78 L84.08,326.05 L83.41,326.31 L82.74,326.56 L82.06,326.81 L81.37,327.05 L80.68,327.29 L79.99,327.53 L79.29,327.76 L78.59,327.99 L77.89,328.21 L77.19,328.43 L76.48,328.65 L75.77,328.87 L75.07,329.09 L74.36,329.3 L73.65,329.51 L72.94,329.73 L72.23,329.94 L71.52,330.15 L70.82,330.37 L70.11,330.58 L69.41,330.8 L68.71,331.01 L68.01,331.23 L67.32,331.46 L66.63,331.68 L65.94,331.91 L65.26,332.14 L64.59,332.38 L63.91,332.62 L63.25,332.86 L62.59,333.11 L61.93,333.37 L61.28,333.63 L60.64,333.9 L60.01,334.17 L59.38,334.45 L58.77,334.74 L58.16,335.04 L57.56,335.34 L56.96,335.66 L56.38,335.98 L55.81,336.31 L55.25,336.65 L54.7,337 L54.7,337 L55.39,336.85 L56.08,336.71 L56.77,336.57 L57.46,336.43 L58.16,336.29 L58.85,336.16 L59.55,336.02 L60.24,335.89 L60.94,335.77 L61.64,335.64 L62.34,335.52 L63.04,335.4 L63.74,335.28 L64.44,335.16 L65.14,335.04 L65.84,334.93 L66.55,334.81 L67.25,334.7 L67.95,334.59 L68.66,334.48 L69.36,334.37 L70.07,334.26 L70.78,334.16 L71.48,334.05 L72.19,333.95 L72.9,333.84 L73.6,333.74 L74.31,333.63 L75.02,333.53 L75.73,333.43 L76.44,333.32 L77.15,333.22 L77.85,333.12 L78.56,333.02 L79.27,332.91 L79.98,332.81 L80.69,332.71 L81.4,332.6 L82.11,332.5 L82.82,332.39 L83.52,332.29 L84.23,332.18 L84.94,332.07 L85.65,331.96 L86.36,331.85 L87.06,331.74 L87.77,331.63 L88.48,331.52 L89.18,331.4 L89.89,331.28 L90.59,331.17 L91.3,331.05 L92,330.92 L92.7,330.8 L93.41,330.67 L94.11,330.55 L94.81,330.42 L95.51,330.28 L96.21,330.15 L96.91,330.01 L97.61,329.87 L98.31,329.73 L99,329.59 L99.7,329.44 L100.39,329.29 L101.09,329.13 L101.78,328.98 L102.47,328.82 L103.16,328.65 L103.85,328.49 L104.54,328.32 L105.23,328.14 L105.91,327.97 L106.6,327.79 L107.28,327.6 L107.96,327.41 L108.64,327.22 L109.32,327.03 L110,326.83 L110.68,326.62 L111.35,326.41 L112.03,326.2 L112.7,325.98 L113.37,325.76 L114.04,325.53 L114.71,325.3 L115.37,325.06 L116.04,324.82 L116.7,324.57 L117.36,324.32 L118.02,324.06 L118.67,323.8 L119.33,323.53 L119.98,323.26 L120.63,322.98 L121.28,322.69 L121.93,322.4 L122.57,322.11 L123.22,321.81 L123.86,321.5 L124.5,321.18 L125.13,320.86 L125.77,320.53 L126.4,320.2" fill="none" stroke="#ff0000" stroke-width="2.0" stroke-linejoin="round" stroke-linecap="round"/>
<path d="M125.9,309.1 L126.67,309.04 L127.43,308.96 L128.17,308.86 L128.9,308.73 L129.61,308.58 L130.3,308.4 L130.98,308.2 L131.65,307.99 L132.29,307.74 L132.92,307.48 L133.54,307.19 L134.14,306.88 L134.72,306.55 L135.29,306.2 L135.84,305.83 L136.38,305.43 L136.9,305.01 L137.41,304.58 L137.9,304.12 L138.37,303.65 L138.84,303.16 L139.28,302.65 L139.72,302.13 L140.14,301.59 L140.55,301.03 L140.95,300.47 L141.33,299.89 L141.71,299.3 L142.07,298.7 L142.43,298.09 L142.77,297.47 L143.1,296.84 L143.43,296.21 L143.75,295.57 L144.05,294.92 L144.36,294.27 L144.65,293.61 L144.93,292.96 L145.21,292.3 L145.49,291.64 L145.76,290.97 L146.02,290.31 L146.27,289.65 L146.53,288.99 L146.77,288.32 L147.01,287.66 L147.25,286.99 L147.48,286.33 L147.71,285.66 L147.93,284.99 L148.15,284.33 L148.36,283.66 L148.57,282.99 L148.78,282.32 L148.98,281.65 L149.18,280.98 L149.37,280.31 L149.56,279.64 L149.75,278.96 L149.94,278.29 L150.12,277.62 L150.3,276.94 L150.48,276.27 L150.65,275.59 L150.83,274.91 L151,274.24 L151.17,273.56 L151.33,272.88 L151.5,272.2 L151.66,271.52 L151.83,270.84 L151.99,270.16 L152.15,269.47 L152.31,268.79 L152.46,268.11 L152.62,267.42 L152.78,266.73 L152.94,266.05 L153.09,265.36 L153.25,264.67 L153.41,263.98 L153.56,263.29 L153.72,262.6 L153.88,261.91 L154.04,261.22 L154.2,260.52 L154.36,259.83 L154.52,259.13 L154.68,258.43 L154.85,257.74 L155.01,257.04 L155.18,256.34 L155.35,255.64 L155.52,254.94 L155.7,254.24 L155.88,253.54 L156.06,252.85 L156.24,252.15 L156.44,251.46 L156.63,250.76 L156.83,250.08 L157.04,249.39 L157.25,248.71 L157.47,248.03 L157.7,247.36 L157.93,246.69 L158.17,246.03 L158.42,245.37 L158.68,244.71 L158.95,244.07 L159.22,243.43 L159.51,242.8 L159.81,242.17 L160.11,241.56 L160.43,240.95 L160.76,240.35 L161.09,239.76 L161.45,239.18 L161.81,238.6 L162.19,238.04 L162.57,237.49 L162.98,236.95 L163.39,236.43 L163.82,235.91 L164.27,235.41 L164.73,234.91 L165.21,234.44 L165.7,233.97 L166.2,233.51 L166.71,233.07 L167.24,232.64 L167.79,232.22 L168.34,231.81 L168.9,231.4 L169.48,231.01 L170.06,230.63 L170.66,230.26 L171.26,229.9 L171.88,229.54 L172.5,229.19 L173.13,228.86 L173.77,228.52 L174.41,228.2 L175.06,227.88 L175.72,227.57 L176.38,227.27 L177.05,226.97 L177.72,226.68 L178.39,226.39 L179.07,226.11 L179.75,225.83 L180.44,225.56 L181.13,225.29 L181.81,225.02 L182.5,224.76 L183.19,224.5 L183.88,224.24 L184.57,223.99 L185.26,223.74 L185.94,223.49 L186.63,223.24 L187.31,222.99 L187.99,222.74 L188.67,222.5 L189.34,222.25 L190.01,222 L190.67,221.75 L191.33,221.51 L191.98,221.26 L192.62,221 L193.26,220.75 L193.89,220.5 L194.52,220.24 L195.13,219.98 L195.74,219.71 L196.34,219.45 L196.92,219.18 L197.5,218.9 L197.5,218.9 L196.79,219 L196.09,219.09 L195.38,219.19 L194.68,219.3 L193.98,219.4 L193.28,219.51 L192.58,219.62 L191.88,219.73 L191.19,219.85 L190.5,219.97 L189.8,220.09 L189.11,220.21 L188.43,220.33 L187.74,220.46 L187.05,220.59 L186.37,220.72 L185.68,220.85 L185,220.99 L184.31,221.13 L183.63,221.27 L182.95,221.41 L182.27,221.56 L181.59,221.7 L180.91,221.85 L180.23,222 L179.56,222.16 L178.88,222.31 L178.2,222.47 L177.52,222.63 L176.85,222.79 L176.17,222.96 L175.5,223.12 L174.82,223.29 L174.14,223.46 L173.47,223.63 L172.79,223.81 L172.11,223.98 L171.44,224.16 L170.76,224.34 L170.08,224.53 L169.41,224.71 L168.73,224.9 L168.05,225.09 L167.37,225.28 L166.69,225.47 L166.01,225.66 L165.33,225.86 L164.65,226.06 L163.96,226.26 L163.28,226.46 L162.6,226.67 L161.91,226.87 L161.23,227.08 L160.54,227.29 L159.86,227.51 L159.17,227.72 L158.49,227.94 L157.8,228.17 L157.12,228.39 L156.44,228.62 L155.76,228.85 L155.08,229.09 L154.4,229.32 L153.72,229.56 L153.04,229.81 L152.37,230.06 L151.69,230.31 L151.02,230.56 L150.35,230.82 L149.68,231.09 L149.02,231.35 L148.35,231.63 L147.69,231.9 L147.03,232.18 L146.38,232.47 L145.72,232.75 L145.07,233.05 L144.43,233.35 L143.78,233.65 L143.14,233.96 L142.51,234.27 L141.87,234.59 L141.24,234.91 L140.62,235.24 L140,235.57 L139.38,235.91 L138.77,236.26 L138.16,236.61 L137.56,236.96 L136.96,237.33 L136.36,237.69 L135.77,238.07 L135.19,238.45 L134.61,238.83 L134.04,239.23 L133.47,239.62 L132.91,240.03 L132.35,240.44 L131.8,240.86 L131.26,241.29 L130.72,241.72 L130.19,242.16 L129.67,242.6 L129.15,243.06 L128.64,243.52 L128.13,243.98 L127.63,244.46 L127.14,244.94 L126.65,245.43 L126.18,245.92 L125.7,246.42 L125.24,246.93 L124.78,247.44 L124.32,247.96 L123.88,248.49 L123.44,249.02 L123,249.55 L122.58,250.1 L122.16,250.65 L121.74,251.2 L121.33,251.76 L120.93,252.32 L120.53,252.89 L120.14,253.47 L119.76,254.05 L119.38,254.64 L119.01,255.23 L118.65,255.82 L118.29,256.42 L117.93,257.02 L117.59,257.63 L117.24,258.25 L116.91,258.86 L116.58,259.48 L116.26,260.11 L115.94,260.74 L115.63,261.37 L115.32,262.01 L115.03,262.65 L114.73,263.29 L114.44,263.94 L114.16,264.59 L113.89,265.25 L113.62,265.9 L113.35,266.56 L113.09,267.23 L112.84,267.89 L112.59,268.56 L112.35,269.23 L112.12,269.91 L111.89,270.58 L111.66,271.26 L111.44,271.94 L111.23,272.63 L111.02,273.31 L110.82,274 L110.62,274.69 L110.43,275.38 L110.25,276.07 L110.07,276.76 L109.89,277.46 L109.72,278.16 L109.55,278.85 L109.39,279.55 L109.23,280.25 L109.08,280.95 L108.93,281.65 L108.78,282.36 L108.63,283.06 L108.48,283.76 L108.34,284.46 L108.2,285.17 L108.06,285.87 L107.92,286.57 L107.78,287.28 L107.64,287.98 L107.5,288.68 L107.35,289.38 L107.21,290.08 L107.07,290.78 L106.92,291.48 L106.78,292.18 L106.63,292.88 L106.47,293.57 L106.32,294.27 L106.16,294.96 L106,295.65 L105.83,296.34 L105.66,297.03 L105.48,297.72 L105.3,298.4 L105.12,299.08 L104.92,299.76 L104.73,300.44 L104.52,301.11 L104.31,301.78 L104.09,302.45 L103.87,303.12 L103.64,303.78 L103.4,304.44 L103.15,305.09 L102.89,305.74 L102.63,306.39 L102.35,307.03 L102.07,307.66 L101.78,308.28 L101.48,308.9 L101.17,309.52 L100.85,310.12 L100.52,310.72 L100.18,311.31 L99.83,311.89 L99.47,312.47 L99.1,313.03 L98.72,313.58 L98.33,314.13 L97.93,314.66 L97.51,315.19 L97.08,315.7 L96.64,316.2 L96.19,316.69 L95.73,317.17 L95.25,317.63 L94.76,318.09 L94.26,318.53 L93.75,318.96 L93.23,319.38 L92.69,319.79 L92.15,320.19 L91.6,320.58 L91.03,320.96 L90.46,321.33 L89.88,321.69 L89.29,322.04 L88.69,322.39 L88.08,322.72 L87.47,323.05 L86.85,323.37 L86.22,323.68 L85.58,323.98 L84.94,324.28 L84.29,324.57 L83.64,324.85 L82.98,325.13 L82.31,325.4 L81.64,325.67 L80.97,325.93 L80.29,326.19 L79.61,326.44 L78.92,326.68 L78.23,326.93 L77.54,327.16 L76.85,327.4 L76.15,327.63 L75.45,327.86 L74.76,328.08 L74.05,328.31 L73.35,328.53 L72.65,328.75 L71.95,328.96 L71.25,329.18 L70.55,329.39 L69.85,329.61 L69.15,329.82 L68.45,330.03 L67.75,330.24 L67.06,330.46 L66.36,330.67 L65.68,330.88 L64.99,331.1 L64.31,331.31 L63.63,331.53 L62.95,331.75 L62.28,331.97 L61.62,332.2 L60.96,332.42 L60.3,332.65 L59.65,332.89 L59.01,333.12 L58.37,333.36 L57.74,333.61 L57.12,333.86 L56.5,334.11 L55.89,334.37 L55.29,334.63 L54.7,334.9 L54.7,334.9 L55.42,334.81 L56.14,334.73 L56.85,334.64 L57.57,334.55 L58.28,334.46 L59,334.37 L59.71,334.28 L60.42,334.19 L61.13,334.1 L61.84,334.01 L62.54,333.91 L63.25,333.82 L63.96,333.72 L64.66,333.63 L65.36,333.53 L66.06,333.43 L66.77,333.33 L67.47,333.23 L68.17,333.13 L68.87,333.03 L69.56,332.93 L70.26,332.83 L70.96,332.72 L71.66,332.62 L72.35,332.51 L73.05,332.41 L73.74,332.3 L74.44,332.19 L75.13,332.08 L75.83,331.98 L76.52,331.87 L77.22,331.76 L77.91,331.64 L78.6,331.53 L79.3,331.42 L79.99,331.31 L80.68,331.19 L81.38,331.08 L82.07,330.96 L82.76,330.84 L83.46,330.73 L84.15,330.61 L84.85,330.49 L85.54,330.37 L86.24,330.25 L86.93,330.13 L87.63,330.01 L88.32,329.88 L89.02,329.76 L89.72,329.64 L90.41,329.51 L91.11,329.39 L91.81,329.26 L92.51,329.13 L93.21,329 L93.91,328.88 L94.62,328.75 L95.32,328.62 L96.02,328.49 L96.73,328.35 L97.43,328.22 L98.14,328.09 L98.85,327.95 L99.56,327.82 L100.27,327.69 L100.98,327.55 L101.69,327.41 L102.41,327.28 L103.12,327.14 L103.84,327 L104.56,326.86 L105.27,326.72 L105.99,326.57 L106.71,326.43 L107.43,326.28 L108.14,326.12 L108.85,325.96 L109.56,325.8 L110.27,325.63 L110.97,325.45 L111.67,325.27 L112.36,325.07 L113.05,324.87 L113.73,324.66 L114.41,324.45 L115.07,324.22 L115.74,323.98 L116.39,323.73 L117.03,323.47 L117.67,323.19 L118.29,322.9 L118.91,322.6 L119.51,322.29 L120.1,321.96 L120.68,321.61 L121.25,321.25 L121.81,320.87 L122.35,320.48 L122.88,320.06 L123.39,319.63 L123.89,319.18 L124.38,318.71 L124.84,318.22 L125.29,317.71 L125.72,317.17 L126.1,316.6" fill="none" stroke="#000000" stroke-width="2.0" stroke-linejoin="round" stroke-linecap="round"/>
<rect x="270.05" y="200.05" width="183.75" height="147.65" fill="none" stroke="#000" stroke-width="1.9"/>
<line x1="269.8" y1="347.7" x2="269.8" y2="345.15" stroke="#000" stroke-width="1.3"/>
<text x="269.8" y="359.4" font-size="8.9" font-weight="bold" text-anchor="middle" fill="#000" >10<tspan font-size="6.1" dx="0.6" dy="-3.0">0</tspan></text>
<line x1="294" y1="347.7" x2="294" y2="345.15" stroke="#000" stroke-width="1.3"/>
<text x="294" y="359.4" font-size="8.9" font-weight="bold" text-anchor="middle" fill="#000" >10<tspan font-size="6.1" dx="0.6" dy="-3.0">1</tspan></text>
<line x1="318.2" y1="347.7" x2="318.2" y2="345.15" stroke="#000" stroke-width="1.3"/>
<text x="318.2" y="359.4" font-size="8.9" font-weight="bold" text-anchor="middle" fill="#000" >10<tspan font-size="6.1" dx="0.6" dy="-3.0">2</tspan></text>
<line x1="342.4" y1="347.7" x2="342.4" y2="345.15" stroke="#000" stroke-width="1.3"/>
<text x="342.4" y="359.4" font-size="8.9" font-weight="bold" text-anchor="middle" fill="#000" >10<tspan font-size="6.1" dx="0.6" dy="-3.0">3</tspan></text>
<line x1="366.6" y1="347.7" x2="366.6" y2="345.15" stroke="#000" stroke-width="1.3"/>
<text x="366.6" y="359.4" font-size="8.9" font-weight="bold" text-anchor="middle" fill="#000" >10<tspan font-size="6.1" dx="0.6" dy="-3.0">4</tspan></text>
<line x1="390.8" y1="347.7" x2="390.8" y2="345.15" stroke="#000" stroke-width="1.3"/>
<text x="390.8" y="359.4" font-size="8.9" font-weight="bold" text-anchor="middle" fill="#000" >10<tspan font-size="6.1" dx="0.6" dy="-3.0">5</tspan></text>
<line x1="415" y1="347.7" x2="415" y2="345.15" stroke="#000" stroke-width="1.3"/>
<text x="415" y="359.4" font-size="8.9" font-weight="bold" text-anchor="middle" fill="#000" >10<tspan font-size="6.1" dx="0.6" dy="-3.0">6</tspan></text>
<line x1="439.2" y1="347.7" x2="439.2" y2="345.15" stroke="#000" stroke-width="1.3"/>
<text x="439.2" y="359.4" font-size="8.9" font-weight="bold" text-anchor="middle" fill="#000" >10<tspan font-size="6.1" dx="0.6" dy="-3.0">7</tspan></text>
<line x1="270.05" y1="336" x2="272.6" y2="336" stroke="#000" stroke-width="1.3"/>
<text x="267.05" y="339.25" font-size="9.2" font-weight="bold" text-anchor="end" fill="#000" >0</text>
<line x1="270.05" y1="313.34" x2="272.6" y2="313.34" stroke="#000" stroke-width="1.3"/>
<text x="267.05" y="316.59" font-size="9.2" font-weight="bold" text-anchor="end" fill="#000" >5</text>
<line x1="270.05" y1="290.68" x2="272.6" y2="290.68" stroke="#000" stroke-width="1.3"/>
<text x="267.05" y="293.93" font-size="9.2" font-weight="bold" text-anchor="end" fill="#000" >10</text>
<line x1="270.05" y1="268.02" x2="272.6" y2="268.02" stroke="#000" stroke-width="1.3"/>
<text x="267.05" y="271.27" font-size="9.2" font-weight="bold" text-anchor="end" fill="#000" >15</text>
<line x1="270.05" y1="245.36" x2="272.6" y2="245.36" stroke="#000" stroke-width="1.3"/>
<text x="267.05" y="248.61" font-size="9.2" font-weight="bold" text-anchor="end" fill="#000" >20</text>
<line x1="270.05" y1="222.7" x2="272.6" y2="222.7" stroke="#000" stroke-width="1.3"/>
<text x="267.05" y="225.95" font-size="9.2" font-weight="bold" text-anchor="end" fill="#000" >25</text>
<line x1="270.05" y1="200.04" x2="272.6" y2="200.04" stroke="#000" stroke-width="1.3"/>
<text x="267.05" y="203.29" font-size="9.2" font-weight="bold" text-anchor="end" fill="#000" >30</text>
<text x="361.8" y="373.9" font-size="9.1" font-weight="bold" text-anchor="middle" fill="#000" >Number of cycles</text>
<text transform="translate(250.2,314.1) rotate(-90)" font-size="9.05" font-weight="bold" fill="#000">Polarization (&#956;C/cm<tspan font-size="6.24" dx="0.2" dy="-3.5">2</tspan><tspan dy="3.5">)</tspan></text>
<polyline points="269.8,331.8 281.4,331.6 286.7,331.6 294.8,331.6 302.2,331.3 310.2,331 318.2,330.8 326.3,330.4 334.2,330 342.3,329.5 350.2,329 358.2,327.6 366.4,326.7 374.5,325.8 382.6,324.2 390.7,322.6 398.9,321 406.8,318.8 414.8,316.2 422.8,313 431.1,309.2 439,305.2 447,301.1" fill="none" stroke="#0000ff" stroke-width="1.8" stroke-linejoin="round" stroke-dasharray="3.2,1.6"/>
<rect x="267.65" y="329.65" width="4.3" height="4.3" fill="#0000ff"/>
<rect x="279.25" y="329.45" width="4.3" height="4.3" fill="#0000ff"/>
<rect x="284.55" y="329.45" width="4.3" height="4.3" fill="#0000ff"/>
<rect x="292.65" y="329.45" width="4.3" height="4.3" fill="#0000ff"/>
<rect x="300.05" y="329.15" width="4.3" height="4.3" fill="#0000ff"/>
<rect x="308.05" y="328.85" width="4.3" height="4.3" fill="#0000ff"/>
<rect x="316.05" y="328.65" width="4.3" height="4.3" fill="#0000ff"/>
<rect x="324.15" y="328.25" width="4.3" height="4.3" fill="#0000ff"/>
<rect x="332.05" y="327.85" width="4.3" height="4.3" fill="#0000ff"/>
<rect x="340.15" y="327.35" width="4.3" height="4.3" fill="#0000ff"/>
<rect x="348.05" y="326.85" width="4.3" height="4.3" fill="#0000ff"/>
<rect x="356.05" y="325.45" width="4.3" height="4.3" fill="#0000ff"/>
<rect x="364.25" y="324.55" width="4.3" height="4.3" fill="#0000ff"/>
<rect x="372.35" y="323.65" width="4.3" height="4.3" fill="#0000ff"/>
<rect x="380.45" y="322.05" width="4.3" height="4.3" fill="#0000ff"/>
<rect x="388.55" y="320.45" width="4.3" height="4.3" fill="#0000ff"/>
<rect x="396.75" y="318.85" width="4.3" height="4.3" fill="#0000ff"/>
<rect x="404.65" y="316.65" width="4.3" height="4.3" fill="#0000ff"/>
<rect x="412.65" y="314.05" width="4.3" height="4.3" fill="#0000ff"/>
<rect x="420.65" y="310.85" width="4.3" height="4.3" fill="#0000ff"/>
<rect x="428.95" y="307.05" width="4.3" height="4.3" fill="#0000ff"/>
<rect x="436.85" y="303.05" width="4.3" height="4.3" fill="#0000ff"/>
<rect x="444.85" y="298.95" width="4.3" height="4.3" fill="#0000ff"/>
<polyline points="269.8,327.6 281.4,327.2 286.7,326.8 294.8,326 302.2,325.2 310.2,323.8 318.2,321.6 326.3,318.9 334.2,315.8 342.3,312 350.2,306 358.2,299.6 366.2,293.6 374.1,286.7 382.1,279.8 390.3,272.6 398.4,265.4 406.5,257.2 414.6,248.7 422.7,240.4 430.8,231.6 438.8,223.4 447,214.1" fill="none" stroke="#ff0000" stroke-width="1.8" stroke-linejoin="round"/>
<circle cx="269.8" cy="327.6" r="2.45" fill="#ff0000"/>
<circle cx="281.4" cy="327.2" r="2.45" fill="#ff0000"/>
<circle cx="286.7" cy="326.8" r="2.45" fill="#ff0000"/>
<circle cx="294.8" cy="326" r="2.45" fill="#ff0000"/>
<circle cx="302.2" cy="325.2" r="2.45" fill="#ff0000"/>
<circle cx="310.2" cy="323.8" r="2.45" fill="#ff0000"/>
<circle cx="318.2" cy="321.6" r="2.45" fill="#ff0000"/>
<circle cx="326.3" cy="318.9" r="2.45" fill="#ff0000"/>
<circle cx="334.2" cy="315.8" r="2.45" fill="#ff0000"/>
<circle cx="342.3" cy="312" r="2.45" fill="#ff0000"/>
<circle cx="350.2" cy="306" r="2.45" fill="#ff0000"/>
<circle cx="358.2" cy="299.6" r="2.45" fill="#ff0000"/>
<circle cx="366.2" cy="293.6" r="2.45" fill="#ff0000"/>
<circle cx="374.1" cy="286.7" r="2.45" fill="#ff0000"/>
<circle cx="382.1" cy="279.8" r="2.45" fill="#ff0000"/>
<circle cx="390.3" cy="272.6" r="2.45" fill="#ff0000"/>
<circle cx="398.4" cy="265.4" r="2.45" fill="#ff0000"/>
<circle cx="406.5" cy="257.2" r="2.45" fill="#ff0000"/>
<circle cx="414.6" cy="248.7" r="2.45" fill="#ff0000"/>
<circle cx="422.7" cy="240.4" r="2.45" fill="#ff0000"/>
<circle cx="430.8" cy="231.6" r="2.45" fill="#ff0000"/>
<circle cx="438.8" cy="223.4" r="2.45" fill="#ff0000"/>
<circle cx="447" cy="214.1" r="2.45" fill="#ff0000"/>
<polyline points="269.8,324.2 294,321.1 318.3,316.8 342.3,310.3 366.2,298.9 390.9,285.9 415.1,271.3 439,252.4 446.8,239.9" fill="none" stroke="#000000" stroke-width="1.8" stroke-linejoin="round"/>
<path d="M269.8,321.28 L272.6,326.15 L267,326.15 Z" fill="#000000"/>
<path d="M294,318.18 L296.8,323.05 L291.2,323.05 Z" fill="#000000" stroke="#fff" stroke-width="1.3" paint-order="stroke" stroke-linejoin="miter"/>
<path d="M318.3,313.88 L321.1,318.75 L315.5,318.75 Z" fill="#000000" stroke="#fff" stroke-width="1.3" paint-order="stroke" stroke-linejoin="miter"/>
<path d="M342.3,307.38 L345.1,312.25 L339.5,312.25 Z" fill="#000000"/>
<path d="M366.2,295.98 L369,300.85 L363.4,300.85 Z" fill="#000000" stroke="#fff" stroke-width="1.3" paint-order="stroke" stroke-linejoin="miter"/>
<path d="M390.9,282.98 L393.7,287.85 L388.1,287.85 Z" fill="#000000" stroke="#fff" stroke-width="1.3" paint-order="stroke" stroke-linejoin="miter"/>
<path d="M415.1,268.38 L417.9,273.25 L412.3,273.25 Z" fill="#000000" stroke="#fff" stroke-width="1.3" paint-order="stroke" stroke-linejoin="miter"/>
<path d="M439,249.48 L441.8,254.35 L436.2,254.35 Z" fill="#000000" stroke="#fff" stroke-width="1.3" paint-order="stroke" stroke-linejoin="miter"/>
<path d="M446.8,236.98 L449.6,241.85 L444,241.85 Z" fill="#000000" stroke="#fff" stroke-width="1.3" paint-order="stroke" stroke-linejoin="miter"/>
<line x1="273" y1="210.8" x2="294.9" y2="210.8" stroke="#ff0000" stroke-width="1.8"/>
<circle cx="283.85" cy="210.7" r="2.35" fill="#ff0000"/>
<line x1="273.9" y1="222.1" x2="280.1" y2="222.1" stroke="#0000ff" stroke-width="1.6"/>
<line x1="287.3" y1="222.1" x2="294" y2="222.1" stroke="#0000ff" stroke-width="1.6"/>
<rect x="281.9" y="220" width="4.2" height="4.2" fill="#0000ff"/>
<line x1="273.9" y1="233.6" x2="280.1" y2="233.6" stroke="#000000" stroke-width="1.8"/>
<line x1="287.3" y1="233.6" x2="294" y2="233.6" stroke="#000000" stroke-width="1.8"/>
<path d="M283.9,230.42 L286.75,235.38 L281.05,235.38 Z" fill="#000000"/>
<text x="296.9" y="213.9" font-size="9.3" font-weight="bold" text-anchor="start" fill="#000" >On TiN (001)</text>
<text x="296.9" y="225.4" font-size="9.3" font-weight="bold" text-anchor="start" fill="#000" >On TiN (110)</text>
<text x="296.9" y="237" font-size="9.3" font-weight="bold" text-anchor="start" fill="#000" >On TiN (111)</text>
<rect x="500.05" y="200.25" width="183.75" height="148.05" fill="none" stroke="#000" stroke-width="1.9"/>
<line x1="500.1" y1="348.3" x2="500.1" y2="345.75" stroke="#000" stroke-width="1.3"/>
<text x="500.1" y="358.7" font-size="9.2" font-weight="bold" text-anchor="middle" fill="#000" >0</text>
<line x1="525.76" y1="348.3" x2="525.76" y2="345.75" stroke="#000" stroke-width="1.3"/>
<text x="525.76" y="358.7" font-size="9.2" font-weight="bold" text-anchor="middle" fill="#000" >10</text>
<line x1="551.41" y1="348.3" x2="551.41" y2="345.75" stroke="#000" stroke-width="1.3"/>
<text x="551.41" y="358.7" font-size="9.2" font-weight="bold" text-anchor="middle" fill="#000" >20</text>
<line x1="577.07" y1="348.3" x2="577.07" y2="345.75" stroke="#000" stroke-width="1.3"/>
<text x="577.07" y="358.7" font-size="9.2" font-weight="bold" text-anchor="middle" fill="#000" >30</text>
<line x1="602.73" y1="348.3" x2="602.73" y2="345.75" stroke="#000" stroke-width="1.3"/>
<text x="602.73" y="358.7" font-size="9.2" font-weight="bold" text-anchor="middle" fill="#000" >40</text>
<line x1="628.38" y1="348.3" x2="628.38" y2="345.75" stroke="#000" stroke-width="1.3"/>
<text x="628.38" y="358.7" font-size="9.2" font-weight="bold" text-anchor="middle" fill="#000" >50</text>
<line x1="654.04" y1="348.3" x2="654.04" y2="345.75" stroke="#000" stroke-width="1.3"/>
<text x="654.04" y="358.7" font-size="9.2" font-weight="bold" text-anchor="middle" fill="#000" >60</text>
<line x1="679.7" y1="348.3" x2="679.7" y2="345.75" stroke="#000" stroke-width="1.3"/>
<text x="679.7" y="358.7" font-size="9.2" font-weight="bold" text-anchor="middle" fill="#000" >70</text>
<line x1="500.05" y1="348.3" x2="502.6" y2="348.3" stroke="#000" stroke-width="1.3"/>
<text x="497.05" y="351.55" font-size="9.2" font-weight="bold" text-anchor="end" fill="#000" >0</text>
<line x1="500.05" y1="323.62" x2="502.6" y2="323.62" stroke="#000" stroke-width="1.3"/>
<text x="497.05" y="326.88" font-size="9.2" font-weight="bold" text-anchor="end" fill="#000" >5</text>
<line x1="500.05" y1="298.95" x2="502.6" y2="298.95" stroke="#000" stroke-width="1.3"/>
<text x="497.05" y="302.2" font-size="9.2" font-weight="bold" text-anchor="end" fill="#000" >10</text>
<line x1="500.05" y1="274.28" x2="502.6" y2="274.28" stroke="#000" stroke-width="1.3"/>
<text x="497.05" y="277.53" font-size="9.2" font-weight="bold" text-anchor="end" fill="#000" >15</text>
<line x1="500.05" y1="249.6" x2="502.6" y2="249.6" stroke="#000" stroke-width="1.3"/>
<text x="497.05" y="252.85" font-size="9.2" font-weight="bold" text-anchor="end" fill="#000" >20</text>
<line x1="500.05" y1="224.93" x2="502.6" y2="224.93" stroke="#000" stroke-width="1.3"/>
<text x="497.05" y="228.18" font-size="9.2" font-weight="bold" text-anchor="end" fill="#000" >25</text>
<line x1="500.05" y1="200.25" x2="502.6" y2="200.25" stroke="#000" stroke-width="1.3"/>
<text x="497.05" y="203.5" font-size="9.2" font-weight="bold" text-anchor="end" fill="#000" >30</text>
<text x="591.8" y="373.4" font-size="9.1" font-weight="bold" text-anchor="middle" fill="#000" >O-phase content (%)</text>
<text transform="translate(480.9,315) rotate(-90)" font-size="9.05" font-weight="bold" fill="#000">Polarization (&#956;C/cm<tspan font-size="6.24" dx="0.2" dy="-3.5">2</tspan><tspan dy="3.5">)</tspan></text>
<rect x="543" y="332.8" width="6" height="6" fill="#ffb9c1"/>
<rect x="574.1" y="293.4" width="6" height="6" fill="#ffb9c1"/>
<rect x="574.1" y="303" width="6" height="6" fill="#ffb9c1"/>
<rect x="624.6" y="209" width="6" height="6" fill="#ff8010"/>
<rect x="593.6" y="242" width="6" height="6" fill="#ff8010"/>
<rect x="638.2" y="279.2" width="6" height="6" fill="#ff8010"/>
<rect x="663.1" y="216.9" width="6" height="6" fill="#33bba0"/>
<rect x="676.2" y="246.3" width="6" height="6" fill="#33bba0"/>
<rect x="637.4" y="251.6" width="6" height="6" fill="#33bba0"/>
<rect x="624.8" y="268.8" width="6" height="6" fill="#33bba0"/>
<path d="M577.5,281.9 L582.2,286.6 L577.5,291.3 L572.8,286.6 Z" fill="#00ffff"/>
<path d="M592.7,262.3 L597.4,267 L592.7,271.7 L588,267 Z" fill="#0000ee"/>
<path d="M607.8,285.3 L612.5,290 L607.8,294.7 L603.1,290 Z" fill="#ff80ff"/>
<path d="M615.3,264.5 L620,269.2 L615.3,273.9 L610.6,269.2 Z" fill="#909090"/>
<path d="M641.1,259.9 L645.8,264.6 L641.1,269.3 L636.4,264.6 Z" fill="#000000"/>
<path d="M554.3,215.3 L556.08,220.05 L561.15,220.28 L557.18,223.43 L558.53,228.32 L554.3,225.52 L550.07,228.32 L551.42,223.43 L547.45,220.28 L552.52,220.05 Z" fill="#ff0a84"/>
<path d="M548.9,226.8 L550.68,231.55 L555.75,231.78 L551.78,234.93 L553.13,239.82 L548.9,237.02 L544.67,239.82 L546.02,234.93 L542.05,231.78 L547.12,231.55 Z" fill="#ff0a84"/>
<path d="M546.74,235.34 L551.06,235.34 L550.55,237.09 L547.25,237.09 Z" fill="#fff"/>
<path d="M561,315.6 L562.09,318.5 L565.18,318.64 L562.76,320.57 L563.59,323.56 L561,321.85 L558.41,323.56 L559.24,320.57 L556.82,318.64 L559.91,318.5 Z" fill="none" stroke="#ff0a84" stroke-width="1.2" stroke-linejoin="miter" stroke-miterlimit="5"/>
<line x1="525.4" y1="346.0" x2="682.7" y2="220.3" stroke="#0000ff" stroke-width="1.6"/>
<text x="501.6" y="207.1" font-size="7.2" font-weight="normal" text-anchor="start" fill="#000" stroke="#000" stroke-width="0.15">Ref:26</text>
<text x="501" y="216" font-size="6.9" font-weight="bold" text-anchor="start" fill="#000" >TiN/HZO/TiN stack</text>
<rect x="502.45" y="219.05" width="6.3" height="6.3" fill="#ffb9c1"/>
<rect x="502.45" y="228.85" width="6.3" height="6.3" fill="#ff8010"/>
<rect x="502.45" y="238.25" width="6.3" height="6.3" fill="#33bba0"/>
<text x="515.7" y="225.3" font-size="6.9" font-weight="bold" text-anchor="start" fill="#000" >HfO<tspan font-size="4.8" dy="1.6">2</tspan></text>
<text x="515.7" y="235" font-size="6.9" font-weight="bold" text-anchor="start" fill="#000" >HZO 1:1</text>
<text x="515.7" y="244.4" font-size="6.9" font-weight="bold" text-anchor="start" fill="#000" >HZO 1:3</text>
<text x="501.4" y="261" font-size="7.2" font-weight="normal" text-anchor="start" fill="#000" stroke="#000" stroke-width="0.15">Ref:42</text>
<path d="M505.6,262.6 L510.2,267.2 L505.6,271.8 L501,267.2 Z" fill="#00ffff"/>
<path d="M505.6,272 L510.2,276.6 L505.6,281.2 L501,276.6 Z" fill="#0000ee"/>
<path d="M505.6,281.7 L510.2,286.3 L505.6,290.9 L501,286.3 Z" fill="#ff80ff"/>
<path d="M505.6,291.8 L510.2,296.4 L505.6,301 L501,296.4 Z" fill="#909090"/>
<path d="M505.6,301.7 L510.2,306.3 L505.6,310.9 L501,306.3 Z" fill="#000000"/>
<text x="515.8" y="270" font-size="6.9" font-weight="bold" text-anchor="start" fill="#000" >W/HZO/TiN</text>
<text x="515.8" y="279.4" font-size="6.9" font-weight="bold" text-anchor="start" fill="#000" >MoO<tspan font-size="4.8" dy="1.6">2</tspan><tspan dy="-1.6">/HZO/TiN</tspan></text>
<text x="515.8" y="289.1" font-size="6.9" font-weight="bold" text-anchor="start" fill="#000" >RuO<tspan font-size="4.8" dy="1.6">2</tspan><tspan dy="-1.6">/HZO/TiN</tspan></text>
<text x="515.8" y="299.2" font-size="6.9" font-weight="bold" text-anchor="start" fill="#000" >TiN/HZO/TiN</text>
<text x="515.8" y="309.1" font-size="6.9" font-weight="bold" text-anchor="start" fill="#000" >TiN/HZO/W</text>
<text x="612" y="315.5" font-size="6.9" font-weight="bold" text-anchor="start" fill="#000" >This work:</text>
<path d="M616.3,317.2 L617.44,320.24 L620.67,320.38 L618.14,322.4 L619,325.52 L616.3,323.73 L613.6,325.52 L614.46,322.4 L611.93,320.38 L615.16,320.24 Z" fill="#ff0a84"/>
<path d="M616.3,326.1 L617.44,329.14 L620.67,329.28 L618.14,331.3 L619,334.42 L616.3,332.63 L613.6,334.42 L614.46,331.3 L611.93,329.28 L615.16,329.14 Z" fill="#ff0a84"/>
<path d="M614.92,331.55 L617.68,331.55 L617.35,332.67 L615.25,332.67 Z" fill="#fff"/>
<path d="M616.3,336.6 L617.02,338.51 L619.06,338.6 L617.46,339.88 L618,341.85 L616.3,340.72 L614.6,341.85 L615.14,339.88 L613.54,338.6 L615.58,338.51 Z" fill="none" stroke="#ff0a84" stroke-width="0.95" stroke-linejoin="miter" stroke-miterlimit="5"/>
<text x="626.4" y="323.6" font-size="6.9" font-weight="bold" text-anchor="start" fill="#000" >HZO on TiN (001)</text>
<text x="626.4" y="332.9" font-size="6.9" font-weight="bold" text-anchor="start" fill="#000" >HZO on TiN (111)</text>
<text x="626.4" y="342.1" font-size="6.9" font-weight="bold" text-anchor="start" fill="#000" >HZO on TiN (110)</text>
</svg>
</body></html>
